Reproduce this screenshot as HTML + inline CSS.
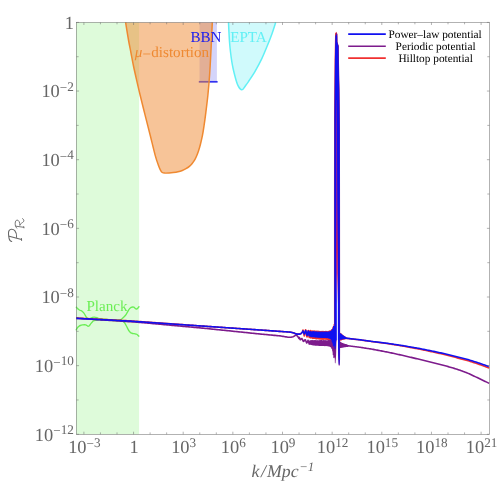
<!DOCTYPE html>
<html><head><meta charset="utf-8"><title>plot</title>
<style>html,body{margin:0;padding:0;background:#fff;width:497px;height:482px;overflow:hidden}body{font-family:"Liberation Serif",serif}</style>
</head><body>
<div style="will-change:transform;width:497px;height:482px">
<svg width="497" height="482" viewBox="0 0 497 482" style="display:block;text-rendering:geometricPrecision">
<rect width="497" height="482" fill="#ffffff"/>
<rect x="76.0" y="22.4" width="63.099999999999994" height="411.90000000000003" fill="#6bee55" fill-opacity="0.22"/>
<rect x="199.5" y="22.4" width="17.400000000000006" height="59.4" fill="#2828e6" fill-opacity="0.2"/>
<line x1="198.8" y1="81.8" x2="217.6" y2="81.8" stroke="#3030f0" stroke-width="1.7"/>
<path d="M125.60,22.40 C126.08,25.33 127.60,34.90 128.50,40.00 C129.40,45.10 130.17,48.67 131.00,53.00 C131.83,57.33 132.57,61.50 133.50,66.00 C134.43,70.50 135.50,75.17 136.60,80.00 C137.70,84.83 138.68,89.15 140.10,95.00 C141.52,100.85 143.42,108.40 145.10,115.10 C146.78,121.80 148.52,128.48 150.20,135.20 C151.88,141.92 153.82,150.35 155.20,155.40 C156.58,160.45 157.60,163.00 158.50,165.50 C159.40,168.00 159.97,169.23 160.60,170.40 C161.23,171.57 161.63,172.05 162.30,172.50 C162.97,172.95 163.48,173.02 164.60,173.10 C165.72,173.18 167.55,173.08 169.00,173.00 C170.45,172.92 171.80,172.80 173.30,172.60 C174.80,172.40 176.50,172.15 178.00,171.80 C179.50,171.45 180.97,171.02 182.30,170.50 C183.63,169.98 184.82,169.38 186.00,168.70 C187.18,168.02 188.40,167.23 189.40,166.40 C190.40,165.57 191.17,164.70 192.00,163.70 C192.83,162.70 193.65,161.65 194.40,160.40 C195.15,159.15 195.83,157.72 196.50,156.20 C197.17,154.68 197.73,153.33 198.40,151.30 C199.07,149.27 199.82,146.68 200.50,144.00 C201.18,141.32 201.92,138.20 202.50,135.20 C203.08,132.20 203.50,129.35 204.00,126.00 C204.50,122.65 204.85,120.27 205.50,115.10 C206.15,109.93 207.22,101.68 207.90,95.00 C208.58,88.32 209.08,82.50 209.60,75.00 C210.12,67.50 210.55,58.77 211.00,50.00 C211.45,41.23 212.08,27.00 212.30,22.40 Z" fill="#ef8931" fill-opacity="0.5" stroke="none"/>
<path d="M125.60,22.40 C126.08,25.33 127.60,34.90 128.50,40.00 C129.40,45.10 130.17,48.67 131.00,53.00 C131.83,57.33 132.57,61.50 133.50,66.00 C134.43,70.50 135.50,75.17 136.60,80.00 C137.70,84.83 138.68,89.15 140.10,95.00 C141.52,100.85 143.42,108.40 145.10,115.10 C146.78,121.80 148.52,128.48 150.20,135.20 C151.88,141.92 153.82,150.35 155.20,155.40 C156.58,160.45 157.60,163.00 158.50,165.50 C159.40,168.00 159.97,169.23 160.60,170.40 C161.23,171.57 161.63,172.05 162.30,172.50 C162.97,172.95 163.48,173.02 164.60,173.10 C165.72,173.18 167.55,173.08 169.00,173.00 C170.45,172.92 171.80,172.80 173.30,172.60 C174.80,172.40 176.50,172.15 178.00,171.80 C179.50,171.45 180.97,171.02 182.30,170.50 C183.63,169.98 184.82,169.38 186.00,168.70 C187.18,168.02 188.40,167.23 189.40,166.40 C190.40,165.57 191.17,164.70 192.00,163.70 C192.83,162.70 193.65,161.65 194.40,160.40 C195.15,159.15 195.83,157.72 196.50,156.20 C197.17,154.68 197.73,153.33 198.40,151.30 C199.07,149.27 199.82,146.68 200.50,144.00 C201.18,141.32 201.92,138.20 202.50,135.20 C203.08,132.20 203.50,129.35 204.00,126.00 C204.50,122.65 204.85,120.27 205.50,115.10 C206.15,109.93 207.22,101.68 207.90,95.00 C208.58,88.32 209.08,82.50 209.60,75.00 C210.12,67.50 210.55,58.77 211.00,50.00 C211.45,41.23 212.08,27.00 212.30,22.40" fill="none" stroke="#ef8931" stroke-width="1.5" stroke-linejoin="round"/>
<path d="M228.50,22.40 C228.58,24.17 228.82,29.57 229.00,33.00 C229.18,36.43 229.35,39.83 229.60,43.00 C229.85,46.17 230.13,48.88 230.50,52.00 C230.87,55.12 231.37,58.95 231.80,61.70 C232.23,64.45 232.63,66.32 233.10,68.50 C233.57,70.68 234.12,72.88 234.60,74.80 C235.08,76.72 235.53,78.43 236.00,80.00 C236.47,81.57 236.93,83.03 237.40,84.20 C237.87,85.37 238.33,86.22 238.80,87.00 C239.27,87.78 239.72,88.43 240.20,88.90 C240.68,89.37 241.23,89.75 241.70,89.80 C242.17,89.85 242.62,89.52 243.00,89.20 C243.38,88.88 243.50,88.60 244.00,87.90 C244.50,87.20 245.23,86.08 246.00,85.00 C246.77,83.92 247.07,83.72 248.60,81.40 C250.13,79.08 253.02,74.85 255.20,71.10 C257.38,67.35 259.68,63.12 261.70,58.90 C263.72,54.68 265.58,50.00 267.30,45.80 C269.02,41.60 270.60,37.60 272.00,33.70 C273.40,29.80 275.08,24.28 275.70,22.40 Z" fill="#62f0f5" fill-opacity="0.3" stroke="none"/>
<path d="M228.50,22.40 C228.58,24.17 228.82,29.57 229.00,33.00 C229.18,36.43 229.35,39.83 229.60,43.00 C229.85,46.17 230.13,48.88 230.50,52.00 C230.87,55.12 231.37,58.95 231.80,61.70 C232.23,64.45 232.63,66.32 233.10,68.50 C233.57,70.68 234.12,72.88 234.60,74.80 C235.08,76.72 235.53,78.43 236.00,80.00 C236.47,81.57 236.93,83.03 237.40,84.20 C237.87,85.37 238.33,86.22 238.80,87.00 C239.27,87.78 239.72,88.43 240.20,88.90 C240.68,89.37 241.23,89.75 241.70,89.80 C242.17,89.85 242.62,89.52 243.00,89.20 C243.38,88.88 243.50,88.60 244.00,87.90 C244.50,87.20 245.23,86.08 246.00,85.00 C246.77,83.92 247.07,83.72 248.60,81.40 C250.13,79.08 253.02,74.85 255.20,71.10 C257.38,67.35 259.68,63.12 261.70,58.90 C263.72,54.68 265.58,50.00 267.30,45.80 C269.02,41.60 270.60,37.60 272.00,33.70 C273.40,29.80 275.08,24.28 275.70,22.40" fill="none" stroke="#62f0f5" stroke-width="1.5"/>
<path d="M76.00,306.80 C76.25,307.10 77.00,308.10 77.50,308.60 C78.00,309.10 78.48,309.48 79.00,309.80 C79.52,310.12 80.08,310.27 80.60,310.50 C81.12,310.73 81.65,310.88 82.10,311.20 C82.55,311.52 82.90,311.93 83.30,312.40 C83.70,312.87 84.15,313.47 84.50,314.00 C84.85,314.53 85.10,315.08 85.40,315.60 C85.70,316.12 85.95,316.65 86.30,317.10 C86.65,317.55 86.97,318.05 87.50,318.30 C88.03,318.55 88.75,318.72 89.50,318.60 C90.25,318.48 91.23,317.85 92.00,317.60 C92.77,317.35 93.27,317.10 94.10,317.10 C94.93,317.10 96.02,317.33 97.00,317.60 C97.98,317.87 97.83,318.37 100.00,318.70 C102.17,319.03 106.67,319.40 110.00,319.60 C113.33,319.80 117.82,320.22 120.00,319.90 C122.18,319.58 122.18,318.47 123.10,317.70 C124.02,316.93 124.85,316.10 125.50,315.30 C126.15,314.50 126.53,313.68 127.00,312.90 C127.47,312.12 127.87,311.32 128.30,310.60 C128.73,309.88 129.12,309.13 129.60,308.60 C130.08,308.07 130.70,307.67 131.20,307.40 C131.70,307.13 132.17,307.03 132.60,307.00 C133.03,306.97 133.40,307.00 133.80,307.20 C134.20,307.40 134.63,307.92 135.00,308.20 C135.37,308.48 135.67,308.80 136.00,308.90 C136.33,309.00 136.67,308.97 137.00,308.80 C137.33,308.63 137.60,308.30 138.00,307.90 C138.40,307.50 139.17,306.65 139.40,306.40" fill="none" stroke="#6bee55" stroke-width="1.35"/>
<path d="M76.00,330.40 C76.15,330.10 76.60,329.12 76.90,328.60 C77.20,328.08 77.45,327.70 77.80,327.30 C78.15,326.90 78.58,326.50 79.00,326.20 C79.42,325.90 79.72,325.72 80.30,325.50 C80.88,325.28 81.80,325.03 82.50,324.90 C83.20,324.77 83.95,324.70 84.50,324.70 C85.05,324.70 85.40,324.77 85.80,324.90 C86.20,325.03 86.52,325.27 86.90,325.50 C87.28,325.73 87.75,326.22 88.10,326.30 C88.45,326.38 88.70,326.23 89.00,326.00 C89.30,325.77 89.57,325.33 89.90,324.90 C90.23,324.47 90.60,323.90 91.00,323.40 C91.40,322.90 91.78,322.35 92.30,321.90 C92.82,321.45 92.82,321.03 94.10,320.70 C95.38,320.37 97.35,319.95 100.00,319.90 C102.65,319.85 106.67,320.23 110.00,320.40 C113.33,320.57 117.82,320.72 120.00,320.90 C122.18,321.08 122.37,321.22 123.10,321.50 C123.83,321.78 124.00,322.13 124.40,322.60 C124.80,323.07 125.10,323.62 125.50,324.30 C125.90,324.98 126.38,325.90 126.80,326.70 C127.22,327.50 127.60,328.35 128.00,329.10 C128.40,329.85 128.80,330.63 129.20,331.20 C129.60,331.77 130.00,332.17 130.40,332.50 C130.80,332.83 131.20,333.03 131.60,333.20 C132.00,333.37 132.40,333.43 132.80,333.50 C133.20,333.57 133.60,333.55 134.00,333.60 C134.40,333.65 134.80,333.70 135.20,333.80 C135.60,333.90 136.00,334.02 136.40,334.20 C136.80,334.38 137.12,334.50 137.60,334.90 C138.08,335.30 139.02,336.32 139.30,336.60" fill="none" stroke="#6bee55" stroke-width="1.35"/>
<defs><linearGradient id="cg" x1="0" y1="110" x2="0" y2="350" gradientUnits="userSpaceOnUse"><stop offset="0" stop-color="#7a1aa4"/><stop offset="0.38" stop-color="#8c1a98"/><stop offset="0.5" stop-color="#b81c70"/><stop offset="0.58" stop-color="#d82048"/><stop offset="0.68" stop-color="#ee4060"/><stop offset="0.76" stop-color="#f8b8c8"/><stop offset="0.81" stop-color="#ffffff"/><stop offset="1" stop-color="#ffffff"/></linearGradient></defs>
<g fill="none" stroke-linejoin="round" stroke-width="1.6">
<polyline points="76.00,318.05 77.00,318.10 78.00,318.15 79.00,318.21 80.00,318.26 81.00,318.31 82.00,318.36 83.00,318.41 84.00,318.46 85.00,318.52 86.00,318.57 87.00,318.62 88.00,318.67 89.00,318.72 90.00,318.78 91.00,318.83 92.00,318.88 93.00,318.93 94.00,318.98 95.00,319.04 96.00,319.09 97.00,319.14 98.00,319.19 99.00,319.24 100.00,319.29 101.00,319.35 102.00,319.40 103.00,319.45 104.00,319.50 105.00,319.55 106.00,319.61 107.00,319.66 108.00,319.71 109.00,319.76 110.00,319.81 111.00,319.86 112.00,319.92 113.00,319.97 114.00,320.02 115.00,320.07 116.00,320.12 117.00,320.18 118.00,320.23 119.00,320.28 120.00,320.33 121.00,320.38 122.00,320.44 123.00,320.49 124.00,320.54 125.00,320.59 126.00,320.64 127.00,320.69 128.00,320.75 129.00,320.80 130.00,320.85 131.00,320.92 132.00,320.99 133.00,321.07 134.00,321.14 135.00,321.21 136.00,321.28 137.00,321.36 138.00,321.43 139.00,321.50 140.00,321.57 141.00,321.64 142.00,321.72 143.00,321.79 144.00,321.86 145.00,321.93 146.00,322.00 147.00,322.08 148.00,322.15 149.00,322.22 150.00,322.29 151.00,322.37 152.00,322.44 153.00,322.51 154.00,322.58 155.00,322.65 156.00,322.73 157.00,322.80 158.00,322.87 159.00,322.94 160.00,323.01 161.00,323.09 162.00,323.16 163.00,323.23 164.00,323.30 165.00,323.38 166.00,323.45 167.00,323.52 168.00,323.59 169.00,323.66 170.00,323.74 171.00,323.81 172.00,323.88 173.00,323.95 174.00,324.02 175.00,324.10 176.00,324.17 177.00,324.24 178.00,324.31 179.00,324.38 180.00,324.46 181.00,324.53 182.00,324.60 183.00,324.67 184.00,324.75 185.00,324.82 186.00,324.89 187.00,324.96 188.00,325.03 189.00,325.11 190.00,325.18 191.00,325.25 192.00,325.32 193.00,325.39 194.00,325.47 195.00,325.54 196.00,325.61 197.00,325.68 198.00,325.76 199.00,325.83 200.00,325.90 201.00,325.97 202.00,326.04 203.00,326.10 204.00,326.17 205.00,326.24 206.00,326.31 207.00,326.38 208.00,326.45 209.00,326.51 210.00,326.58 211.00,326.65 212.00,326.72 213.00,326.79 214.00,326.86 215.00,326.92 216.00,326.99 217.00,327.06 218.00,327.13 219.00,327.20 220.00,327.27 221.00,327.33 222.00,327.40 223.00,327.47 224.00,327.54 225.00,327.61 226.00,327.68 227.00,327.75 228.00,327.81 229.00,327.88 230.00,327.95 231.00,328.02 232.00,328.09 233.00,328.15 234.00,328.22 235.00,328.29 236.00,328.36 237.00,328.43 238.00,328.50 239.00,328.56 240.00,328.63 241.00,328.70 242.00,328.77 243.00,328.84 244.00,328.91 245.00,328.98 246.00,329.04 247.00,329.11 248.00,329.18 249.00,329.25 250.00,329.32 251.00,329.38 252.00,329.45 253.00,329.52 254.00,329.59 255.00,329.66 256.00,329.73 257.00,329.80 258.00,329.86 259.00,329.93 260.00,330.00 261.00,330.07 262.00,330.14 263.00,330.21 264.00,330.28 265.00,330.35 266.00,330.42 267.00,330.49 268.00,330.56 269.00,330.63 270.00,330.70 271.00,330.77 272.00,330.84 273.00,330.91 274.00,330.98 275.00,331.05 276.00,331.12 277.00,331.19 278.00,331.26 279.00,331.33 280.00,331.40 281.00,331.47 282.00,331.54 283.00,331.61 284.00,331.68 285.00,331.75 286.00,331.82 287.00,331.90 288.00,331.97 289.00,332.04 290.00,332.11 291.00,332.18 292.00,332.41 293.00,332.70 294.00,333.00 295.00,333.44 296.00,333.88 297.00,334.10 298.00,334.10 299.00,334.10 300.00,334.10 301.00,333.61 302.00,332.54 302.20,332.30 302.24,332.26 302.28,332.20 302.32,332.12 302.36,332.03 302.40,331.93 302.44,331.83 302.48,331.72 302.52,331.60 302.56,331.47 302.60,331.33 302.64,331.18 302.68,331.02 302.72,330.85 302.76,330.66 302.80,330.47 302.84,330.28 302.88,330.11 302.92,330.03 302.96,330.04 303.00,330.09 303.04,330.17 303.08,330.28 303.12,330.42 303.16,330.58 303.20,330.75 303.24,330.91 303.28,331.08 303.32,331.25 303.36,331.42 303.40,331.59 303.44,331.77 303.48,331.96 303.52,332.17 303.56,332.39 303.60,332.63 303.64,332.87 303.68,333.11 303.72,333.34 303.76,333.57 303.80,333.79 303.84,334.01 303.88,334.22 303.92,334.43 303.96,334.65 304.00,334.87 304.04,335.11 304.08,335.35 304.12,335.56 304.16,335.72 304.20,335.85 304.24,335.93 304.28,335.96 304.32,335.93 304.36,335.85 304.40,335.72 304.44,335.55 304.48,335.36 304.52,335.16 304.56,334.96 304.60,334.77 304.64,334.59 304.68,334.42 304.72,334.26 304.76,334.09 304.80,333.91 304.84,333.71 304.88,333.50 304.92,333.26 304.96,333.00 305.00,332.74 305.04,332.48 305.08,332.22 305.12,331.98 305.16,331.75 305.20,331.53 305.24,331.32 305.28,331.11 305.32,330.90 305.36,330.69 305.40,330.49 305.44,330.28 305.48,330.10 305.52,329.94 305.56,329.82 305.60,329.76 305.64,329.76 305.68,329.81 305.72,329.93 305.76,330.09 305.80,330.29 305.84,330.50 305.88,330.70 305.92,330.90 305.96,331.09 306.00,331.25 306.04,331.41 306.08,331.57 306.12,331.75 306.16,331.94 306.20,332.17 306.24,332.42 306.28,332.71 306.32,333.02 306.36,333.33 306.40,333.65 306.44,333.97 306.48,334.26 306.52,334.54 306.56,334.81 306.60,335.07 306.64,335.31 306.68,335.56 306.72,335.80 306.76,336.04 306.80,336.27 306.84,336.48 306.88,336.65 306.92,336.78 306.96,336.86 307.00,336.88 307.04,336.85 307.08,336.77 307.12,336.65 307.16,336.52 307.20,336.37 307.24,336.24 307.28,336.11 307.32,336.00 307.36,335.89 307.40,335.77 307.44,335.64 307.48,335.48 307.52,335.28 307.56,335.04 307.60,334.75 307.64,334.43 307.68,334.08 307.72,333.72 307.76,333.37 307.80,333.03 307.84,332.71 307.88,332.42 307.92,332.15 307.96,331.90 308.00,331.66 308.04,331.43 308.08,331.20 308.12,330.99 308.16,330.80 308.20,330.65 308.24,330.54 308.28,330.49 308.32,330.50 308.36,330.58 308.40,330.72 308.44,330.90 308.48,331.13 308.52,331.37 308.56,331.63 308.60,331.89 308.64,332.16 308.68,332.45 308.72,332.76 308.76,333.10 308.80,333.48 308.84,333.91 308.88,334.38 308.92,334.87 308.96,335.36 309.00,335.82 309.04,336.25 309.08,336.61 309.12,336.90 309.16,337.12 309.20,337.27 309.24,337.36 309.28,337.41 309.32,337.43 309.36,337.42 309.40,337.38 309.44,337.31 309.48,337.19 309.52,337.01 309.56,336.76 309.60,336.43 309.64,336.04 309.68,335.60 309.72,335.12 309.76,334.62 309.80,334.12 309.84,333.64 309.88,333.17 309.92,332.73 309.96,332.31 310.00,331.90 310.04,331.52 310.08,331.17 310.12,330.88 310.16,330.68 310.20,330.58 310.24,330.62 310.28,330.81 310.32,331.14 310.36,331.60 310.40,332.17 310.44,332.80 310.48,333.46 310.52,334.11 310.56,334.73 310.60,335.32 310.64,335.85 310.68,336.35 310.72,336.80 310.76,337.20 310.80,337.54 310.84,337.79 310.88,337.91 310.92,337.89 310.96,337.70 311.00,337.34 311.04,336.83 311.08,336.19 311.12,335.48 311.16,334.74 311.20,333.99 311.24,333.28 311.28,332.63 311.32,332.06 311.36,331.58 311.40,331.22 311.44,331.02 311.48,331.01 311.52,331.21 311.56,331.63 311.60,332.26 311.64,333.06 311.68,333.95 311.72,334.87 311.76,335.74 311.80,336.48 311.84,337.06 311.88,337.45 311.92,337.66 311.96,337.69 312.00,337.55 312.04,337.25 312.08,336.79 312.12,336.15 312.16,335.36 312.20,334.45 312.24,333.49 312.28,332.57 312.32,331.80 312.36,331.27 312.40,331.06 312.44,331.20 312.48,331.68 312.52,332.43 312.56,333.39 312.60,334.46 312.64,335.55 312.68,336.58 312.72,337.44 312.76,338.05 312.80,338.33 312.84,338.20 312.88,337.66 312.92,336.73 312.96,335.53 313.00,334.23 313.04,333.04 313.08,332.13 313.12,331.63 313.16,331.56 313.20,331.92 313.24,332.62 313.28,333.56 313.32,334.65 313.36,335.77 313.40,336.81 313.44,337.65 313.48,338.14 313.52,338.18 313.56,337.69 313.60,336.71 313.64,335.36 313.68,333.89 313.72,332.54 313.76,331.57 313.80,331.14 313.84,331.31 313.88,332.03 313.92,333.17 313.96,334.52 314.00,335.90 314.04,337.10 314.08,337.95 314.12,338.30 314.16,338.09 314.20,337.30 314.24,336.06 314.28,334.59 314.32,333.17 314.36,332.08 314.40,331.54 314.44,331.64 314.48,332.34 314.52,333.48 314.56,334.83 314.60,336.17 314.64,337.27 314.68,337.96 314.72,338.08 314.76,337.58 314.80,336.48 314.84,334.95 314.88,333.29 314.92,331.88 314.96,331.09 315.00,331.17 315.04,332.11 315.08,333.70 315.12,335.53 315.16,337.15 315.20,338.18 315.24,338.42 315.28,337.86 315.32,336.66 315.36,335.10 315.40,333.52 315.44,332.27 315.48,331.67 315.52,331.90 315.56,332.95 315.60,334.58 315.64,336.36 315.68,337.78 315.72,338.42 315.76,338.09 315.80,336.89 315.84,335.19 315.88,333.47 315.92,332.21 315.96,331.76 316.00,332.26 316.04,333.61 316.08,335.46 316.12,337.28 316.16,338.51 316.20,338.68 316.24,337.66 316.28,335.73 316.32,333.53 316.36,331.81 316.40,331.18 316.44,331.81 316.48,333.44 316.52,335.47 316.56,337.22 316.60,338.17 316.64,338.08 316.68,337.03 316.72,335.36 316.76,333.58 316.80,332.24 316.84,331.81 316.88,332.48 316.92,334.11 316.96,336.14 317.00,337.85 317.04,338.60 317.08,338.09 317.12,336.52 317.16,334.45 317.20,332.65 317.24,331.73 317.28,332.01 317.32,333.39 317.36,335.41 317.40,337.37 317.44,338.57 317.48,338.51 317.52,337.14 317.56,334.91 317.60,332.69 317.64,331.37 317.68,331.52 317.72,333.05 317.76,335.31 317.80,337.36 317.84,338.41 317.88,338.14 317.92,336.74 317.96,334.81 318.00,333.07 318.04,332.15 318.08,332.40 318.12,333.77 318.16,335.79 318.20,337.68 318.24,338.60 318.28,338.07 318.32,336.24 318.36,333.87 318.40,332.01 318.44,331.51 318.48,332.59 318.52,334.75 318.56,337.04 318.60,338.47 318.64,338.44 318.68,336.98 318.72,334.70 318.76,332.59 318.80,331.59 318.84,332.21 318.88,334.24 318.92,336.76 318.96,338.57 319.00,338.77 319.04,337.28 319.08,334.86 319.12,332.73 319.16,331.88 319.20,332.64 319.24,334.54 319.28,336.67 319.32,338.03 319.36,338.03 319.40,336.64 319.44,334.45 319.48,332.51 319.52,331.83 319.56,332.91 319.60,335.32 319.64,337.82 319.68,339.03 319.72,338.22 319.76,335.81 319.80,333.12 319.84,331.63 319.88,332.12 319.92,334.25 319.96,336.84 320.00,338.50 320.04,338.37 320.08,336.53 320.12,333.97 320.16,332.07 320.20,331.91 320.24,333.63 320.28,336.28 320.32,338.37 320.36,338.69 320.40,337.11 320.44,334.58 320.48,332.54 320.52,332.09 320.56,333.37 320.60,335.63 320.64,337.64 320.68,338.36 320.72,337.38 320.76,335.16 320.80,332.84 320.84,331.75 320.88,332.62 320.92,335.10 320.96,337.83 321.00,339.19 321.04,338.33 321.08,335.75 321.12,332.96 321.16,331.57 321.20,332.29 321.24,334.60 321.28,337.15 321.32,338.56 321.36,338.13 321.40,336.15 321.44,333.69 321.48,332.09 321.52,332.27 321.56,334.17 321.60,336.76 321.64,338.56 321.68,338.51 321.72,336.63 321.76,334.04 321.80,332.22 321.84,332.17 321.88,333.86 321.92,336.29 321.96,338.15 322.00,338.41 322.04,336.93 322.08,334.44 322.12,332.31 322.16,331.78 322.20,333.28 322.24,336.08 322.28,338.56 322.32,339.22 322.36,337.62 322.40,334.72 322.44,332.24 322.48,331.61 322.52,333.07 322.56,335.67 322.60,337.89 322.64,338.56 322.68,337.42 322.72,335.14 322.76,332.98 322.80,332.11 322.84,333.07 322.88,335.37 322.92,337.75 322.96,338.81 323.00,337.86 323.04,335.41 323.08,332.91 323.12,331.81 323.16,332.74 323.20,335.12 323.24,337.57 323.28,338.71 323.32,337.93 323.36,335.66 323.40,333.13 323.44,331.78 323.48,332.46 323.52,334.87 323.56,337.68 323.60,339.21 323.64,338.49 323.68,335.93 323.72,333.07 323.76,331.62 323.80,332.36 323.84,334.73 323.88,337.27 323.92,338.55 323.96,337.97 324.00,335.95 324.04,333.65 324.08,332.33 324.12,332.72 324.16,334.67 324.20,337.15 324.24,338.71 324.28,338.35 324.32,336.17 324.36,333.42 324.40,331.76 324.44,332.21 324.48,334.49 324.52,337.24 324.56,338.84 324.60,338.40 324.64,336.23 324.68,333.57 324.72,331.94 324.76,332.29 324.80,334.46 324.84,337.25 324.88,339.02 324.92,338.66 324.96,336.33 325.00,333.44 325.04,331.73 325.08,332.21 325.12,334.49 325.16,337.13 325.20,338.60 325.24,338.14 325.28,336.15 325.32,333.81 325.36,332.42 325.40,332.74 325.44,334.63 325.48,337.09 325.52,338.69 325.56,338.39 325.60,336.22 325.64,333.40 325.68,331.66 325.72,332.13 325.76,334.56 325.80,337.48 325.84,339.10 325.88,338.50 325.92,336.12 325.96,333.40 326.00,331.93 326.04,332.50 326.08,334.77 326.12,337.44 326.16,338.93 326.20,338.35 326.24,335.97 326.28,333.22 326.32,331.77 326.36,332.50 326.40,334.95 326.44,337.57 326.48,338.81 326.52,338.00 326.56,335.73 326.60,333.40 326.64,332.31 326.68,333.05 326.72,335.21 326.76,337.58 326.80,338.78 326.84,337.99 326.88,335.53 326.92,332.81 326.96,331.54 327.00,332.62 327.04,335.46 327.08,338.30 327.12,339.37 327.16,338.05 327.20,335.24 327.24,332.68 327.28,331.88 327.32,333.19 327.36,335.77 327.40,338.08 327.44,338.81 327.48,337.51 327.52,334.93 327.56,332.60 327.60,331.95 327.64,333.42 327.68,336.15 327.72,338.43 327.76,338.87 327.80,337.24 327.84,334.59 327.88,332.56 327.92,332.30 327.96,333.93 328.00,336.45 328.04,338.43 328.08,338.66 328.12,336.91 328.16,334.11 328.20,331.93 328.24,331.83 328.28,334.02 328.32,337.23 328.36,339.43 328.40,339.19 328.44,336.66 328.48,333.49 328.52,331.66 328.56,332.21 328.60,334.65 328.64,337.44 328.68,338.93 328.72,338.31 328.76,335.99 328.80,333.33 328.84,331.91 328.88,332.66 328.92,335.21 328.96,338.06 329.00,339.39 329.04,338.31 329.08,335.45 329.12,332.61 329.16,331.57 329.20,332.95 329.24,335.86 329.28,338.51 329.32,339.31 329.36,337.78 329.40,334.78 329.44,332.09 329.48,331.40 329.52,333.29 329.56,336.71 329.60,339.54 329.64,339.91 329.68,337.50 329.72,333.84 329.76,331.28 329.80,331.43 329.84,334.05 329.88,337.38 329.92,339.36 329.96,338.91 330.00,336.44 330.04,333.50 330.08,331.82 330.12,332.40 330.16,334.97 330.20,338.04 330.24,339.69 330.28,338.76 330.32,335.68 330.36,332.35 330.40,330.95 330.44,332.43 330.48,335.88 330.52,339.08 330.56,340.02 330.60,338.17 330.64,334.70 330.68,331.76 330.72,331.16 330.76,333.31 330.80,336.95 330.84,339.84 330.88,340.10 330.92,337.43 330.96,333.47 331.00,330.78 331.04,331.10 331.08,334.25 331.12,338.17 331.16,340.33 331.20,339.46 331.24,336.27 331.28,332.84 331.32,331.25 331.36,332.42 331.40,335.63 331.44,339.02 331.48,340.48 331.52,338.93 331.56,335.10 331.60,331.32 331.64,330.15 331.68,332.63 331.72,337.33 331.76,341.21 331.80,341.65 331.84,338.35 331.88,333.47 331.92,330.17 331.96,330.50 332.00,334.23 332.04,338.99 332.08,341.84 332.12,340.95 332.16,336.78 332.20,331.89 332.24,329.45 332.28,331.18 332.32,336.09 332.36,341.00 332.40,342.68 332.44,340.06 332.48,334.96 332.52,330.75 332.56,330.02 332.60,333.16 332.64,338.16 332.68,341.94 332.72,342.16 332.76,338.53 332.80,333.09 332.84,329.27 332.88,329.85 332.92,334.99 332.96,341.67 333.00,345.42 333.04,343.42 333.08,336.73 333.12,329.78 333.16,327.28 333.20,330.89 333.24,338.18 333.28,344.37 333.32,345.58 333.36,341.17 333.40,334.01 333.44,328.64 333.48,328.55 333.52,334.00 333.56,341.67 333.60,346.58 333.64,345.32 333.68,338.52 333.72,330.62 333.76,326.93 333.80,329.88 333.84,337.44 333.88,344.60 333.92,346.77 333.96,342.68 334.00,334.97 334.04,328.49 334.08,327.43 334.12,332.81 334.16,341.60 334.20,348.17 334.24,347.78 334.28,340.06 334.32,329.83 334.36,324.09" stroke="#f03030"/>
<polyline points="339.80,334.72 339.84,334.01 339.88,335.02 339.92,337.21 339.96,339.21 340.00,339.65 340.04,338.12 340.08,335.55 340.12,333.67 340.16,333.79 340.20,335.85 340.24,338.44 340.28,339.84 340.32,339.21 340.36,337.09 340.40,334.92 340.44,334.04 340.48,334.95 340.52,337.01 340.56,338.92 340.60,339.49 340.64,338.35 340.68,336.23 340.72,334.49 340.76,334.28 340.80,335.77 340.84,337.96 340.88,339.41 340.92,339.23 340.96,337.59 341.00,335.62 341.04,334.55 341.08,335.02 341.12,336.71 341.16,338.57 341.20,339.44 341.24,338.76 341.28,336.89 341.32,335.01 341.36,334.37 341.40,335.45 341.44,337.57 341.48,339.33 341.52,339.59 341.56,338.24 341.60,336.26 341.64,334.95 341.68,335.06 341.72,336.40 341.76,338.06 341.80,339.03 341.84,338.78 341.88,337.53 341.92,336.03 341.96,335.23 342.00,335.64 342.04,337.05 342.08,338.59 342.12,339.26 342.16,338.62 342.20,337.09 342.24,335.69 342.28,335.30 342.32,336.14 342.36,337.62 342.40,338.84 342.44,339.05 342.48,338.17 342.52,336.75 342.56,335.66 342.60,335.60 342.64,336.64 342.68,338.14 342.72,339.16 342.76,339.04 342.80,337.87 342.84,336.45 342.88,335.69 342.92,336.03 342.96,337.18 343.00,338.36 343.04,338.87 343.08,338.50 343.12,337.53 343.16,336.57 343.20,336.19 343.24,336.60 343.28,337.58 343.32,338.55 343.36,338.90 343.40,338.39 343.44,337.33 343.48,336.38 343.52,336.18 343.56,336.84 343.60,337.94 343.64,338.77 343.68,338.85 343.72,338.18 343.76,337.22 343.80,336.54 343.84,336.56 343.88,337.24 343.92,338.17 343.96,338.80 344.00,338.74 344.04,338.04 344.08,337.14 344.12,336.63 344.16,336.81 344.20,337.53 344.24,338.33 344.28,338.72 344.32,338.51 344.36,337.90 344.40,337.28 344.44,337.02 344.48,337.23 344.52,337.79 344.56,338.38 344.60,338.64 344.64,338.43 344.68,337.86 344.72,337.28 344.76,337.06 344.80,337.36 344.84,337.99 344.88,338.56 344.92,338.72 344.96,338.41 345.00,337.85 345.04,337.41 345.08,337.33 345.12,337.64 345.16,338.13 345.20,338.52 345.24,338.59 345.28,338.33 345.32,337.90 345.36,337.57 345.40,337.55 345.44,337.83 345.48,338.25 345.52,338.54 345.56,338.55 345.60,338.30 345.64,337.98 345.68,337.79 345.72,337.81 345.76,338.03 345.80,338.31 345.84,338.49 345.88,338.49 345.92,338.31 345.96,338.07 346.00,337.91 346.04,337.94 346.08,338.14 346.12,338.39 346.16,338.54 346.20,338.51 346.24,338.34 346.28,338.16 346.32,338.07 346.36,338.12 346.40,338.26 346.44,338.40 346.48,338.47 346.52,338.45 346.56,338.36 346.60,338.27 346.64,338.23 346.68,338.26 346.72,338.33 346.76,338.41 346.80,338.45 346.84,338.43 346.88,338.38 346.92,338.34 346.96,338.33 347.00,338.35 347.04,338.38 347.08,338.41 347.12,338.41 347.16,338.41 347.20,338.41 348.20,338.52 349.20,338.64 350.20,338.76 351.20,338.87 352.20,338.99 353.20,339.11 354.20,339.22 355.20,339.34 356.20,339.46 357.20,339.57 358.20,339.69 359.20,339.81 360.20,339.93 361.20,340.07 362.20,340.21 363.20,340.34 364.20,340.48 365.20,340.62 366.20,340.76 367.20,340.90 368.20,341.04 369.20,341.18 370.20,341.32 371.20,341.45 372.20,341.59 373.20,341.72 374.20,341.85 375.20,341.99 376.20,342.12 377.20,342.25 378.20,342.38 379.20,342.52 380.20,342.65 381.20,342.78 382.20,342.91 383.20,343.04 384.20,343.18 385.20,343.31 386.20,343.44 387.20,343.57 388.20,343.71 389.20,343.87 390.20,344.04 391.20,344.20 392.20,344.36 393.20,344.52 394.20,344.68 395.20,344.85 396.20,345.01 397.20,345.17 398.20,345.33 399.20,345.49 400.20,345.65 401.20,345.82 402.20,345.98 403.20,346.14 404.20,346.32 405.20,346.51 406.20,346.69 407.20,346.87 408.20,347.06 409.20,347.24 410.20,347.42 411.20,347.61 412.20,347.79 413.20,347.97 414.20,348.16 415.20,348.34 416.20,348.52 417.20,348.71 418.20,348.89 419.20,349.07 420.20,349.26 421.20,349.48 422.20,349.69 423.20,349.90 424.20,350.11 425.20,350.33 426.20,350.54 427.20,350.75 428.20,350.97 429.20,351.18 430.20,351.39 431.20,351.60 432.20,351.82 433.20,352.03 434.20,352.24 435.20,352.46 436.20,352.69 437.20,352.91 438.20,353.13 439.20,353.36 440.20,353.58 441.20,353.81 442.20,354.03 443.20,354.26 444.20,354.49 445.20,354.71 446.20,354.94 447.20,355.21 448.20,355.47 449.20,355.74 450.20,356.00 451.20,356.27 452.20,356.54 453.20,356.80 454.20,357.07 455.20,357.33 456.20,357.60 457.20,357.86 458.20,358.12 459.20,358.38 460.20,358.64 461.20,358.90 462.20,359.16 463.20,359.43 464.20,359.69 465.20,359.95 466.20,360.21 467.20,360.47 468.20,360.78 469.20,361.10 470.20,361.42 471.20,361.74 472.20,362.06 473.20,362.38 474.20,362.71 475.20,363.03 476.20,363.35 477.20,363.67 478.20,364.01 479.20,364.38 480.20,364.74 481.20,365.10 482.20,365.47 483.20,365.83 484.20,366.19 485.20,366.56 486.20,366.92 487.20,367.29 488.20,367.65 489.20,368.01" stroke="#f03030"/>
<polygon points="333.95,340.00 333.95,200.00 334.05,120.00 334.35,80.00 334.55,60.00 334.85,45.00 335.05,33.50 336.30,31.80 337.20,33.50 337.30,42.00 338.50,46.00 338.70,60.00 339.30,90.00 339.70,130.00 339.80,200.00 339.90,340.00 339.80,354.00 339.50,360.00 338.70,360.00 338.30,352.00 337.90,340.00 336.60,340.00 336.10,342.00 335.50,350.00 334.25,350.00 334.05,342.00" fill="#f03030" stroke="none"/>
<polyline points="76.00,318.35 77.00,318.41 78.00,318.47 79.00,318.53 80.00,318.59 81.00,318.65 82.00,318.71 83.00,318.77 84.00,318.83 85.00,318.89 86.00,318.95 87.00,319.01 88.00,319.07 89.00,319.13 90.00,319.19 91.00,319.25 92.00,319.31 93.00,319.38 94.00,319.44 95.00,319.50 96.00,319.56 97.00,319.62 98.00,319.68 99.00,319.74 100.00,319.80 101.00,319.86 102.00,319.92 103.00,319.98 104.00,320.04 105.00,320.10 106.00,320.16 107.00,320.22 108.00,320.28 109.00,320.34 110.00,320.40 111.00,320.47 112.00,320.53 113.00,320.60 114.00,320.67 115.00,320.73 116.00,320.80 117.00,320.87 118.00,320.93 119.00,321.00 120.00,321.07 121.00,321.13 122.00,321.20 123.00,321.27 124.00,321.33 125.00,321.40 126.00,321.47 127.00,321.53 128.00,321.60 129.00,321.67 130.00,321.73 131.00,321.80 132.00,321.87 133.00,321.93 134.00,322.00 135.00,322.07 136.00,322.13 137.00,322.20 138.00,322.27 139.00,322.33 140.00,322.40 141.00,322.49 142.00,322.58 143.00,322.67 144.00,322.77 145.00,322.86 146.00,322.95 147.00,323.04 148.00,323.13 149.00,323.22 150.00,323.32 151.00,323.41 152.00,323.50 153.00,323.59 154.00,323.68 155.00,323.77 156.00,323.87 157.00,323.96 158.00,324.05 159.00,324.14 160.00,324.23 161.00,324.32 162.00,324.42 163.00,324.51 164.00,324.60 165.00,324.69 166.00,324.78 167.00,324.87 168.00,324.97 169.00,325.06 170.00,325.15 171.00,325.24 172.00,325.33 173.00,325.42 174.00,325.51 175.00,325.61 176.00,325.70 177.00,325.79 178.00,325.88 179.00,325.97 180.00,326.06 181.00,326.16 182.00,326.25 183.00,326.34 184.00,326.43 185.00,326.52 186.00,326.61 187.00,326.71 188.00,326.80 189.00,326.89 190.00,326.98 191.00,327.07 192.00,327.16 193.00,327.26 194.00,327.35 195.00,327.44 196.00,327.53 197.00,327.62 198.00,327.71 199.00,327.81 200.00,327.90 201.00,327.99 202.00,328.08 203.00,328.17 204.00,328.26 205.00,328.36 206.00,328.46 207.00,328.57 208.00,328.67 209.00,328.77 210.00,328.87 211.00,328.98 212.00,329.08 213.00,329.18 214.00,329.28 215.00,329.39 216.00,329.49 217.00,329.59 218.00,329.69 219.00,329.80 220.00,329.90 221.00,330.00 222.00,330.10 223.00,330.21 224.00,330.31 225.00,330.41 226.00,330.51 227.00,330.62 228.00,330.72 229.00,330.82 230.00,330.92 231.00,331.03 232.00,331.13 233.00,331.23 234.00,331.33 235.00,331.44 236.00,331.54 237.00,331.64 238.00,331.74 239.00,331.85 240.00,331.95 241.00,332.05 242.00,332.15 243.00,332.26 244.00,332.36 245.00,332.46 246.00,332.56 247.00,332.67 248.00,332.77 249.00,332.87 250.00,332.97 251.00,333.08 252.00,333.18 253.00,333.28 254.00,333.38 255.00,333.49 256.00,333.59 257.00,333.69 258.00,333.79 259.00,333.90 260.00,334.00 261.00,334.10 262.00,334.19 263.00,334.28 264.00,334.38 265.00,334.48 266.00,334.57 267.00,334.66 268.00,334.76 269.00,334.86 270.00,334.95 271.00,335.04 272.00,335.14 273.00,335.24 274.00,335.33 275.00,335.42 276.00,335.52 277.00,335.62 278.00,335.71 279.00,335.80 280.00,335.90 281.00,336.06 282.00,336.22 283.00,336.39 284.00,336.55 285.00,336.71 286.00,336.88 287.00,337.04 288.00,337.20 289.00,337.23 290.00,337.27 291.00,337.30 292.00,336.98 293.00,336.66 294.00,336.20 295.00,335.60 296.00,335.00 297.00,335.67 298.00,336.83 299.00,338.50 299.30,337.41 299.34,337.49 299.38,337.58 299.42,337.67 299.46,337.77 299.50,337.87 299.54,337.98 299.58,338.09 299.62,338.20 299.66,338.32 299.70,338.44 299.74,338.57 299.78,338.70 299.82,338.83 299.86,338.97 299.90,339.10 299.94,339.23 299.98,339.34 300.02,339.45 300.06,339.55 300.10,339.63 300.14,339.63 300.18,339.62 300.22,339.61 300.26,339.61 300.30,339.61 300.34,339.62 300.38,339.64 300.42,339.65 300.46,339.66 300.50,339.66 300.54,339.66 300.58,339.64 300.62,339.61 300.66,339.57 300.70,339.52 300.74,339.46 300.78,339.41 300.82,339.35 300.86,339.29 300.90,339.24 300.94,339.19 300.98,339.14 301.02,339.10 301.06,339.05 301.10,339.01 301.14,338.96 301.18,338.91 301.22,338.87 301.26,338.83 301.30,338.79 301.34,338.76 301.38,338.73 301.42,338.71 301.46,338.70 301.50,338.69 301.54,338.69 301.58,338.68 301.62,338.67 301.66,338.65 301.70,338.63 301.74,338.61 301.78,338.58 301.82,338.56 301.86,338.55 301.90,338.56 301.94,338.58 301.98,338.61 302.02,338.67 302.06,338.73 302.10,338.81 302.14,338.90 302.18,338.99 302.22,339.08 302.26,339.17 302.30,339.25 302.34,339.33 302.38,339.41 302.42,339.48 302.46,339.56 302.50,339.63 302.54,339.72 302.58,339.80 302.62,339.90 302.66,339.99 302.70,340.08 302.74,340.17 302.78,340.26 302.82,340.35 302.86,340.43 302.90,340.51 302.94,340.59 302.98,340.68 303.02,340.77 303.06,340.86 303.10,340.95 303.14,341.04 303.18,341.13 303.22,341.21 303.26,341.28 303.30,341.33 303.34,341.36 303.38,341.37 303.42,341.37 303.46,341.35 303.50,341.33 303.54,341.30 303.58,341.28 303.62,341.26 303.66,341.24 303.70,341.23 303.74,341.23 303.78,341.23 303.82,341.23 303.86,341.22 303.90,341.20 303.94,341.17 303.98,341.14 304.02,341.09 304.06,341.03 304.10,340.97 304.14,340.90 304.18,340.83 304.22,340.76 304.26,340.70 304.30,340.63 304.34,340.57 304.38,340.50 304.42,340.43 304.46,340.35 304.50,340.28 304.54,340.20 304.58,340.14 304.62,340.07 304.66,340.02 304.70,339.99 304.74,339.97 304.78,339.96 304.82,339.96 304.86,339.96 304.90,339.97 304.94,339.97 304.98,339.97 305.02,339.95 305.06,339.93 305.10,339.90 305.14,339.87 305.18,339.84 305.22,339.82 305.26,339.82 305.30,339.83 305.34,339.86 305.38,339.90 305.42,339.97 305.46,340.04 305.50,340.13 305.54,340.22 305.58,340.31 305.62,340.41 305.66,340.50 305.70,340.59 305.74,340.68 305.78,340.77 305.82,340.87 305.86,340.98 305.90,341.09 305.94,341.20 305.98,341.31 306.02,341.42 306.06,341.53 306.10,341.63 306.14,341.72 306.18,341.80 306.22,341.89 306.26,341.97 306.30,342.05 306.34,342.15 306.38,342.25 306.42,342.35 306.46,342.47 306.50,342.58 306.54,342.69 306.58,342.79 306.62,342.88 306.66,342.94 306.70,342.98 306.74,342.99 306.78,342.98 306.82,342.95 306.86,342.91 306.90,342.86 306.94,342.81 306.98,342.75 307.02,342.70 307.06,342.65 307.10,342.60 307.14,342.54 307.18,342.47 307.22,342.39 307.26,342.31 307.30,342.21 307.34,342.10 307.38,341.99 307.42,341.88 307.46,341.77 307.50,341.66 307.54,341.55 307.58,341.45 307.62,341.35 307.66,341.25 307.70,341.14 307.74,341.02 307.78,340.89 307.82,340.77 307.86,340.65 307.90,340.53 307.94,340.44 307.98,340.37 308.02,340.33 308.06,340.33 308.10,340.35 308.14,340.41 308.18,340.48 308.22,340.57 308.26,340.66 308.30,340.76 308.34,340.86 308.38,340.95 308.42,341.05 308.46,341.15 308.50,341.26 308.54,341.39 308.58,341.53 308.62,341.69 308.66,341.85 308.70,342.03 308.74,342.21 308.78,342.38 308.82,342.55 308.86,342.72 308.90,342.87 308.94,343.03 308.98,343.18 309.02,343.33 309.06,343.48 309.10,343.63 309.14,343.77 309.18,343.90 309.22,344.00 309.26,344.06 309.30,344.08 309.34,344.06 309.38,343.99 309.42,343.88 309.46,343.75 309.50,343.59 309.54,343.42 309.58,343.25 309.62,343.08 309.66,342.91 309.70,342.74 309.74,342.57 309.78,342.38 309.82,342.19 309.86,341.99 309.90,341.78 309.94,341.58 309.98,341.39 310.02,341.23 310.06,341.09 310.10,340.99 310.14,340.93 310.18,340.92 310.22,340.94 310.26,340.99 310.30,341.08 310.34,341.19 310.38,341.34 310.42,341.51 310.46,341.73 310.50,341.99 310.54,342.27 310.58,342.59 310.62,342.91 310.66,343.23 310.70,343.52 310.74,343.78 310.78,343.98 310.82,344.11 310.86,344.20 310.90,344.23 310.94,344.21 310.98,344.16 311.02,344.08 311.06,343.96 311.10,343.80 311.14,343.59 311.18,343.33 311.22,343.02 311.26,342.67 311.30,342.29 311.34,341.92 311.38,341.58 311.42,341.29 311.46,341.07 311.50,340.94 311.54,340.90 311.58,340.94 311.62,341.06 311.66,341.25 311.70,341.51 311.74,341.82 311.78,342.19 311.82,342.60 311.86,343.03 311.90,343.46 311.94,343.85 311.98,344.19 312.02,344.42 312.06,344.54 312.10,344.55 312.14,344.44 312.18,344.23 312.22,343.95 312.26,343.61 312.30,343.24 312.34,342.84 312.38,342.42 312.42,342.00 312.46,341.60 312.50,341.25 312.54,341.00 312.58,340.87 312.62,340.91 312.66,341.12 312.70,341.50 312.74,342.00 312.78,342.59 312.82,343.18 312.86,343.72 312.90,344.17 312.94,344.48 312.98,344.63 313.02,344.61 313.06,344.44 313.10,344.11 313.14,343.65 313.18,343.10 313.22,342.50 313.26,341.93 313.30,341.45 313.34,341.12 313.38,341.00 313.42,341.09 313.46,341.39 313.50,341.84 313.54,342.39 313.58,342.97 313.62,343.54 313.66,344.04 313.70,344.43 313.74,344.65 313.78,344.68 313.82,344.48 313.86,344.05 313.90,343.42 313.94,342.68 313.98,341.93 314.02,341.30 314.06,340.90 314.10,340.80 314.14,341.01 314.18,341.48 314.22,342.14 314.26,342.87 314.30,343.57 314.34,344.15 314.38,344.55 314.42,344.72 314.46,344.62 314.50,344.26 314.54,343.67 314.58,342.93 314.62,342.16 314.66,341.52 314.70,341.11 314.74,341.04 314.78,341.31 314.82,341.88 314.86,342.63 314.90,343.43 314.94,344.14 314.98,344.64 315.02,344.84 315.06,344.69 315.10,344.19 315.14,343.40 315.18,342.46 315.22,341.57 315.26,340.96 315.30,340.78 315.34,341.12 315.38,341.89 315.42,342.90 315.46,343.90 315.50,344.62 315.54,344.91 315.58,344.72 315.62,344.13 315.66,343.29 315.70,342.40 315.74,341.66 315.78,341.26 315.82,341.31 315.86,341.85 315.90,342.76 315.94,343.80 315.98,344.64 316.02,345.00 316.06,344.74 316.10,343.93 316.14,342.83 316.18,341.81 316.22,341.17 316.26,341.11 316.30,341.64 316.34,342.59 316.38,343.69 316.42,344.61 316.46,345.04 316.50,344.82 316.54,343.99 316.58,342.79 316.62,341.63 316.66,340.94 316.70,340.95 316.74,341.66 316.78,342.80 316.82,343.93 316.86,344.68 316.90,344.83 316.94,344.37 316.98,343.49 317.02,342.48 317.06,341.65 317.10,341.28 317.14,341.50 317.18,342.29 317.22,343.41 317.26,344.47 317.30,345.05 317.34,344.89 317.38,344.02 317.42,342.76 317.46,341.60 317.50,341.00 317.54,341.16 317.58,342.01 317.62,343.23 317.66,344.35 317.70,344.97 317.74,344.86 317.78,344.04 317.82,342.80 317.86,341.62 317.90,340.98 317.94,341.15 317.98,342.09 318.02,343.41 318.06,344.55 318.10,345.03 318.14,344.69 318.18,343.70 318.22,342.52 318.26,341.61 318.30,341.32 318.34,341.74 318.38,342.70 318.42,343.84 318.46,344.71 318.50,344.91 318.54,344.28 318.58,343.04 318.62,341.71 318.66,340.93 318.70,341.10 318.74,342.17 318.78,343.64 318.82,344.82 318.86,345.17 318.90,344.54 318.94,343.27 318.98,341.96 319.02,341.18 319.06,341.29 319.10,342.22 319.14,343.57 319.18,344.70 319.22,345.06 319.26,344.45 319.30,343.13 319.34,341.78 319.38,341.09 319.42,341.40 319.46,342.53 319.50,343.88 319.54,344.77 319.58,344.77 319.62,343.92 319.66,342.65 319.70,341.58 319.74,341.26 319.78,341.90 319.82,343.24 319.86,344.60 319.90,345.21 319.94,344.65 319.98,343.16 320.02,341.58 320.06,340.83 320.10,341.34 320.14,342.80 320.18,344.35 320.22,345.12 320.26,344.76 320.30,343.51 320.34,342.10 320.38,341.28 320.42,341.45 320.46,342.52 320.50,343.93 320.54,344.91 320.58,344.89 320.62,343.86 320.66,342.37 320.70,341.28 320.74,341.21 320.78,342.20 320.82,343.66 320.86,344.77 320.90,344.93 320.94,344.08 320.98,342.71 321.02,341.54 321.06,341.21 321.10,341.94 321.14,343.39 321.18,344.76 321.22,345.27 321.26,344.55 321.30,342.96 321.34,341.42 321.38,340.84 321.42,341.55 321.46,343.11 321.50,344.58 321.54,345.15 321.58,344.57 321.62,343.25 321.66,341.93 321.70,341.32 321.74,341.71 321.78,342.88 321.82,344.22 321.86,344.98 321.90,344.71 321.94,343.50 321.98,342.02 322.02,341.13 322.06,341.38 322.10,342.62 322.14,344.14 322.18,345.07 322.22,344.88 322.26,343.72 322.30,342.24 322.34,341.27 322.38,341.33 322.42,342.43 322.46,343.98 322.50,345.11 322.54,345.14 322.58,344.00 322.62,342.32 322.66,341.09 322.70,341.04 322.74,342.19 322.78,343.83 322.82,344.99 322.86,345.04 322.90,344.04 322.94,342.62 322.98,341.58 323.02,341.44 323.06,342.26 323.10,343.58 323.14,344.70 323.18,344.97 323.22,344.19 323.26,342.73 323.30,341.43 323.34,341.08 323.38,341.95 323.42,343.54 323.46,344.91 323.50,345.25 323.54,344.39 323.58,342.84 323.62,341.52 323.66,341.15 323.70,341.93 323.74,343.42 323.78,344.79 323.82,345.24 323.86,344.49 323.90,342.94 323.94,341.48 323.98,340.99 324.02,341.77 324.06,343.35 324.10,344.76 324.14,345.19 324.18,344.45 324.22,343.04 324.26,341.80 324.30,341.39 324.34,342.00 324.38,343.27 324.42,344.51 324.46,345.02 324.50,344.46 324.54,343.09 324.58,341.66 324.62,341.04 324.66,341.69 324.70,343.26 324.74,344.83 324.78,345.42 324.82,344.70 324.86,343.11 324.90,341.62 324.94,341.09 324.98,341.78 325.02,343.25 325.06,344.66 325.10,345.20 325.14,344.57 325.18,343.12 325.22,341.67 325.26,341.10 325.30,341.76 325.34,343.28 325.38,344.73 325.42,345.25 325.46,344.55 325.50,343.10 325.54,341.79 325.58,341.35 325.62,341.99 325.66,343.31 325.70,344.57 325.74,345.05 325.78,344.45 325.82,343.05 325.86,341.64 325.90,341.08 325.94,341.79 325.98,343.42 326.02,344.99 326.06,345.51 326.10,344.65 326.14,342.95 326.18,341.46 326.22,341.07 326.26,341.94 326.30,343.50 326.34,344.81 326.38,345.15 326.42,344.35 326.46,342.89 326.50,341.61 326.54,341.27 326.58,342.09 326.62,343.62 326.66,344.94 326.70,345.23 326.74,344.31 326.78,342.76 326.82,341.52 326.86,341.33 326.90,342.26 326.94,343.74 326.98,344.89 327.02,345.06 327.06,344.13 327.10,342.62 327.14,341.40 327.18,341.23 327.22,342.30 327.26,344.02 327.30,345.34 327.34,345.41 327.38,344.14 327.42,342.33 327.46,341.12 327.50,341.23 327.54,342.51 327.58,344.14 327.62,345.13 327.66,344.95 327.70,343.79 327.74,342.34 327.78,341.45 327.82,341.62 327.86,342.80 327.90,344.29 327.94,345.21 327.98,344.95 328.02,343.62 328.06,342.03 328.10,341.16 328.14,341.58 328.18,343.02 328.22,344.59 328.26,345.34 328.30,344.83 328.34,343.38 328.38,341.84 328.42,341.13 328.46,341.72 328.50,343.33 328.54,345.01 328.58,345.71 328.62,344.91 328.66,343.07 328.70,341.35 328.74,340.84 328.78,341.85 328.82,343.71 328.86,345.22 328.90,345.50 328.94,344.46 328.98,342.82 329.02,341.54 329.06,341.37 329.10,342.39 329.14,344.01 329.18,345.30 329.22,345.43 329.26,344.24 329.30,342.38 329.34,341.03 329.38,341.09 329.42,342.59 329.46,344.60 329.50,345.84 329.54,345.54 329.58,343.91 329.62,341.97 329.66,340.92 329.70,341.38 329.74,343.08 329.78,345.01 329.82,345.99 329.86,345.36 329.90,343.45 329.94,341.44 329.98,340.61 330.02,341.54 330.06,343.63 330.10,345.53 330.14,346.05 330.18,344.93 330.22,342.96 330.26,341.39 330.30,341.13 330.34,342.27 330.38,344.10 330.42,345.52 330.46,345.69 330.50,344.43 330.54,342.42 330.58,340.91 330.62,340.93 330.66,342.60 330.70,344.93 330.74,346.40 330.78,346.01 330.82,344.00 330.86,341.68 330.90,340.53 330.94,341.24 330.98,343.31 331.02,345.45 331.06,346.38 331.10,345.52 331.14,343.38 331.18,341.28 331.22,340.59 331.26,341.83 331.30,344.31 331.34,346.47 331.38,346.89 331.42,345.32 331.46,342.79 331.50,340.98 331.54,341.01 331.58,342.83 331.62,345.25 331.66,346.81 331.70,346.58 331.74,344.69 331.78,342.26 331.82,340.80 331.86,341.37 331.90,343.83 331.94,346.73 331.98,348.16 332.02,347.04 332.06,343.99 332.10,341.02 332.14,340.13 332.18,341.93 332.22,345.21 332.26,347.84 332.30,348.21 332.34,346.19 332.38,343.13 332.42,340.96 332.46,341.04 332.50,343.37 332.54,346.66 332.58,348.88 332.62,348.53 332.66,345.71 332.70,342.25 332.74,340.53 332.78,341.86 332.82,345.48 332.86,349.12 332.90,350.48 332.94,348.75 332.98,345.08 333.02,341.83 333.06,341.15 333.10,343.71 333.14,348.20 333.18,351.90 333.22,352.27 333.26,348.77 333.30,343.47 333.34,340.00 333.38,340.99 333.42,346.04 333.46,351.90 333.50,354.68 333.54,352.67 333.58,347.39 333.62,342.45 333.66,341.04 333.70,344.00 333.74,349.44 333.78,354.03 333.82,354.92 333.86,351.44 333.90,345.70 333.94,341.44 333.98,341.76 334.02,346.83 334.06,353.52 334.10,357.41 334.14,355.84 334.18,349.87 334.22,343.51 334.26,341.04 334.30,344.13 334.34,350.91 334.38,357.13" stroke="#7d1b8c"/>
<polyline points="339.80,343.28 339.84,342.73 339.88,343.60 339.92,345.29 339.96,346.69 340.00,346.89 340.04,345.83 340.08,344.20 340.12,343.05 340.16,343.11 340.20,344.38 340.24,346.08 340.28,347.13 340.32,346.80 340.36,345.23 340.40,343.43 340.44,342.61 340.48,343.37 340.52,345.18 340.56,346.83 340.60,347.25 340.64,346.25 340.68,344.57 340.72,343.33 340.76,343.26 340.80,344.31 340.84,345.78 340.88,346.78 340.92,346.70 340.96,345.57 341.00,344.10 341.04,343.22 341.08,343.54 341.12,344.91 341.16,346.44 341.20,347.12 341.24,346.52 341.28,345.05 341.32,343.69 341.36,343.29 341.40,344.08 341.44,345.52 341.48,346.73 341.52,346.94 341.56,346.04 341.60,344.56 341.64,343.45 341.68,343.44 341.72,344.56 341.76,346.11 341.80,347.07 341.84,346.83 341.88,345.59 341.92,344.20 341.96,343.56 342.00,343.99 342.04,345.15 342.08,346.27 342.12,346.70 342.16,346.23 342.20,345.18 342.24,344.17 342.28,343.83 342.32,344.40 342.36,345.58 342.40,346.63 342.44,346.86 342.48,346.09 342.52,344.80 342.56,343.83 342.60,343.81 342.64,344.73 342.68,345.97 342.72,346.75 342.76,346.63 342.80,345.71 342.84,344.59 342.88,343.94 342.92,344.17 342.96,345.13 343.00,346.24 343.04,346.80 343.08,346.46 343.12,345.43 343.16,344.39 343.20,344.00 343.24,344.47 343.28,345.45 343.32,346.32 343.36,346.55 343.40,346.08 343.44,345.22 343.48,344.51 343.52,344.34 343.56,344.83 343.60,345.70 343.64,346.43 343.68,346.57 343.72,345.98 343.76,345.00 343.80,344.27 343.84,344.26 343.88,344.98 343.92,345.97 343.96,346.60 344.00,346.50 344.04,345.78 344.08,344.92 344.12,344.44 344.16,344.59 344.20,345.27 344.24,346.06 344.28,346.48 344.32,346.30 344.36,345.62 344.40,344.86 344.44,344.50 344.48,344.76 344.52,345.46 344.56,346.16 344.60,346.43 344.64,346.15 344.68,345.51 344.72,344.93 344.76,344.73 344.80,345.02 344.84,345.61 344.88,346.17 344.92,346.37 344.96,346.07 345.00,345.44 345.04,344.85 345.08,344.69 345.12,345.07 345.16,345.77 345.20,346.34 345.24,346.43 345.28,346.02 345.32,345.39 345.36,344.93 345.40,344.90 345.44,345.28 345.48,345.83 345.52,346.21 345.56,346.23 345.60,345.90 345.64,345.41 345.68,345.05 345.72,345.05 345.76,345.40 345.80,345.90 345.84,346.24 345.88,346.22 345.92,345.87 345.96,345.41 346.00,345.14 346.04,345.19 346.08,345.52 346.12,345.93 346.16,346.19 346.20,346.15 346.24,345.84 346.28,345.43 346.32,345.18 346.36,345.24 346.40,345.58 346.44,346.00 346.48,346.24 346.52,346.17 346.56,345.84 346.60,345.47 346.64,345.28 346.68,345.37 346.72,345.66 346.76,345.96 346.80,346.11 346.84,346.04 346.88,345.81 346.92,345.56 346.96,345.42 347.00,345.49 347.04,345.71 347.08,345.97 347.12,346.11 347.16,346.04 347.20,345.83 347.24,345.59 347.28,345.48 347.32,345.55 347.36,345.75 347.40,345.96 347.44,346.06 347.48,346.00 347.52,345.84 347.56,345.66 347.60,345.57 347.64,345.62 347.68,345.78 347.72,345.96 347.76,346.05 347.80,346.01 347.84,345.86 347.88,345.71 347.92,345.65 347.96,345.70 348.00,345.82 348.04,345.94 348.08,345.99 348.12,345.96 348.16,345.88 348.20,345.79 348.24,345.76 348.28,345.78 348.32,345.85 348.36,345.93 348.40,345.98 348.44,345.96 348.48,345.90 348.52,345.84 348.56,345.81 348.60,345.83 348.64,345.89 348.68,345.94 348.72,345.97 348.76,345.96 348.80,345.93 348.84,345.90 348.88,345.89 348.92,345.90 348.96,345.93 349.00,345.95 349.04,345.96 349.08,345.96 349.12,345.95 349.16,345.95 349.20,345.96 350.20,346.08 351.20,346.20 352.20,346.32 353.20,346.45 354.20,346.57 355.20,346.70 356.20,346.82 357.20,346.95 358.20,347.07 359.20,347.20 360.20,347.33 361.20,347.49 362.20,347.64 363.20,347.80 364.20,347.95 365.20,348.11 366.20,348.26 367.20,348.42 368.20,348.57 369.20,348.73 370.20,348.88 371.20,349.04 372.20,349.21 373.20,349.40 374.20,349.59 375.20,349.78 376.20,349.97 377.20,350.16 378.20,350.35 379.20,350.54 380.20,350.73 381.20,350.91 382.20,351.10 383.20,351.29 384.20,351.48 385.20,351.67 386.20,351.86 387.20,352.05 388.20,352.24 389.20,352.46 390.20,352.68 391.20,352.89 392.20,353.11 393.20,353.33 394.20,353.55 395.20,353.76 396.20,353.98 397.20,354.20 398.20,354.41 399.20,354.63 400.20,354.85 401.20,355.07 402.20,355.28 403.20,355.50 404.20,355.74 405.20,355.98 406.20,356.21 407.20,356.45 408.20,356.69 409.20,356.93 410.20,357.17 411.20,357.40 412.20,357.64 413.20,357.88 414.20,358.12 415.20,358.36 416.20,358.60 417.20,358.83 418.20,359.07 419.20,359.31 420.20,359.55 421.20,359.80 422.20,360.05 423.20,360.30 424.20,360.55 425.20,360.80 426.20,361.05 427.20,361.30 428.20,361.55 429.20,361.80 430.20,362.05 431.20,362.30 432.20,362.55 433.20,362.80 434.20,363.05 435.20,363.30 436.20,363.55 437.20,363.80 438.20,364.05 439.20,364.30 440.20,364.55 441.20,364.80 442.20,365.05 443.20,365.30 444.20,365.55 445.20,365.80 446.20,366.06 447.20,366.35 448.20,366.64 449.20,366.93 450.20,367.22 451.20,367.51 452.20,367.80 453.20,368.09 454.20,368.39 455.20,368.68 456.20,368.97 457.20,369.27 458.20,369.64 459.20,370.00 460.20,370.37 461.20,370.73 462.20,371.10 463.20,371.47 464.20,371.83 465.20,372.20 466.20,372.56 467.20,372.93 468.20,373.37 469.20,373.84 470.20,374.30 471.20,374.77 472.20,375.24 473.20,375.70 474.20,376.17 475.20,376.63 476.20,377.10 477.20,377.57 478.20,378.04 479.20,378.52 480.20,379.01 481.20,379.49 482.20,379.97 483.20,380.46 484.20,380.94 485.20,381.42 486.20,381.90 487.20,382.39 488.20,382.87 489.20,383.35" stroke="#7d1b8c"/>
<polygon points="334.60,340.00 334.60,200.00 334.70,120.00 335.00,80.00 335.20,60.00 335.50,45.00 335.70,34.20 336.30,32.50 337.45,34.20 337.55,42.00 338.75,46.00 338.95,60.00 339.55,90.00 339.95,130.00 340.05,200.00 340.15,340.00 340.05,359.50 339.75,365.50 338.70,365.50 338.30,357.50 337.90,340.00 336.60,340.00 336.10,355.30 335.50,363.30 334.90,363.30 334.70,355.30" fill="#7d1b8c" stroke="none"/>
<polyline points="76.00,318.30 77.00,318.35 78.00,318.40 79.00,318.46 80.00,318.51 81.00,318.56 82.00,318.61 83.00,318.66 84.00,318.71 85.00,318.77 86.00,318.82 87.00,318.87 88.00,318.92 89.00,318.97 90.00,319.03 91.00,319.08 92.00,319.13 93.00,319.18 94.00,319.23 95.00,319.29 96.00,319.34 97.00,319.39 98.00,319.44 99.00,319.49 100.00,319.54 101.00,319.60 102.00,319.65 103.00,319.70 104.00,319.75 105.00,319.80 106.00,319.86 107.00,319.91 108.00,319.96 109.00,320.01 110.00,320.06 111.00,320.11 112.00,320.17 113.00,320.22 114.00,320.27 115.00,320.32 116.00,320.37 117.00,320.43 118.00,320.48 119.00,320.53 120.00,320.58 121.00,320.63 122.00,320.69 123.00,320.74 124.00,320.79 125.00,320.84 126.00,320.89 127.00,320.94 128.00,321.00 129.00,321.05 130.00,321.10 131.00,321.17 132.00,321.24 133.00,321.31 134.00,321.37 135.00,321.44 136.00,321.51 137.00,321.58 138.00,321.65 139.00,321.72 140.00,321.79 141.00,321.85 142.00,321.92 143.00,321.99 144.00,322.06 145.00,322.13 146.00,322.20 147.00,322.27 148.00,322.33 149.00,322.40 150.00,322.47 151.00,322.54 152.00,322.61 153.00,322.68 154.00,322.75 155.00,322.81 156.00,322.88 157.00,322.95 158.00,323.02 159.00,323.09 160.00,323.16 161.00,323.23 162.00,323.29 163.00,323.36 164.00,323.43 165.00,323.50 166.00,323.57 167.00,323.64 168.00,323.71 169.00,323.77 170.00,323.84 171.00,323.91 172.00,323.98 173.00,324.05 174.00,324.12 175.00,324.19 176.00,324.25 177.00,324.32 178.00,324.39 179.00,324.46 180.00,324.53 181.00,324.60 182.00,324.67 183.00,324.73 184.00,324.80 185.00,324.87 186.00,324.94 187.00,325.01 188.00,325.08 189.00,325.15 190.00,325.21 191.00,325.28 192.00,325.35 193.00,325.42 194.00,325.49 195.00,325.56 196.00,325.63 197.00,325.69 198.00,325.76 199.00,325.83 200.00,325.90 201.00,325.97 202.00,326.04 203.00,326.10 204.00,326.17 205.00,326.24 206.00,326.31 207.00,326.38 208.00,326.45 209.00,326.51 210.00,326.58 211.00,326.65 212.00,326.72 213.00,326.79 214.00,326.86 215.00,326.92 216.00,326.99 217.00,327.06 218.00,327.13 219.00,327.20 220.00,327.27 221.00,327.33 222.00,327.40 223.00,327.47 224.00,327.54 225.00,327.61 226.00,327.68 227.00,327.75 228.00,327.81 229.00,327.88 230.00,327.95 231.00,328.02 232.00,328.09 233.00,328.15 234.00,328.22 235.00,328.29 236.00,328.36 237.00,328.43 238.00,328.50 239.00,328.56 240.00,328.63 241.00,328.70 242.00,328.77 243.00,328.84 244.00,328.91 245.00,328.98 246.00,329.04 247.00,329.11 248.00,329.18 249.00,329.25 250.00,329.32 251.00,329.38 252.00,329.45 253.00,329.52 254.00,329.59 255.00,329.66 256.00,329.73 257.00,329.80 258.00,329.86 259.00,329.93 260.00,330.00 261.00,330.07 262.00,330.14 263.00,330.21 264.00,330.28 265.00,330.35 266.00,330.42 267.00,330.49 268.00,330.56 269.00,330.63 270.00,330.70 271.00,330.77 272.00,330.84 273.00,330.91 274.00,330.98 275.00,331.05 276.00,331.12 277.00,331.19 278.00,331.26 279.00,331.33 280.00,331.40 281.00,331.47 282.00,331.54 283.00,331.61 284.00,331.68 285.00,331.75 286.00,331.82 287.00,331.90 288.00,331.97 289.00,332.04 290.00,332.11 291.00,332.18 292.00,332.41 293.00,332.70 294.00,333.00 295.00,333.44 296.00,333.88 297.00,334.10 298.00,334.10 299.00,334.10 300.00,334.10 301.00,333.61 302.00,332.54 302.20,332.30 302.24,332.27 302.28,332.23 302.32,332.17 302.36,332.11 302.40,332.05 302.44,331.98 302.48,331.91 302.52,331.84 302.56,331.77 302.60,331.70 302.64,331.62 302.68,331.54 302.72,331.46 302.76,331.37 302.80,331.27 302.84,331.18 302.88,331.08 302.92,331.02 302.96,331.01 303.00,331.02 303.04,331.04 303.08,331.08 303.12,331.13 303.16,331.20 303.20,331.27 303.24,331.35 303.28,331.43 303.32,331.52 303.36,331.61 303.40,331.70 303.44,331.80 303.48,331.91 303.52,332.03 303.56,332.16 303.60,332.29 303.64,332.43 303.68,332.56 303.72,332.68 303.76,332.80 303.80,332.90 303.84,333.00 303.88,333.08 303.92,333.16 303.96,333.24 304.00,333.33 304.04,333.43 304.08,333.53 304.12,333.64 304.16,333.74 304.20,333.83 304.24,333.91 304.28,333.97 304.32,334.01 304.36,334.02 304.40,333.99 304.44,333.95 304.48,333.88 304.52,333.79 304.56,333.70 304.60,333.59 304.64,333.49 304.68,333.39 304.72,333.28 304.76,333.17 304.80,333.05 304.84,332.93 304.88,332.79 304.92,332.65 304.96,332.50 305.00,332.35 305.04,332.21 305.08,332.07 305.12,331.95 305.16,331.84 305.20,331.73 305.24,331.63 305.28,331.54 305.32,331.44 305.36,331.33 305.40,331.21 305.44,331.08 305.48,330.94 305.52,330.82 305.56,330.70 305.60,330.61 305.64,330.55 305.68,330.52 305.72,330.55 305.76,330.61 305.80,330.71 305.84,330.83 305.88,330.96 305.92,331.11 305.96,331.25 306.00,331.39 306.04,331.53 306.08,331.67 306.12,331.81 306.16,331.96 306.20,332.12 306.24,332.28 306.28,332.46 306.32,332.65 306.36,332.83 306.40,333.02 306.44,333.20 306.48,333.37 306.52,333.53 306.56,333.69 306.60,333.84 306.64,333.99 306.68,334.15 306.72,334.32 306.76,334.49 306.80,334.67 306.84,334.85 306.88,335.01 306.92,335.15 306.96,335.25 307.00,335.32 307.04,335.34 307.08,335.32 307.12,335.26 307.16,335.17 307.20,335.06 307.24,334.94 307.28,334.81 307.32,334.69 307.36,334.58 307.40,334.46 307.44,334.35 307.48,334.24 307.52,334.11 307.56,333.96 307.60,333.80 307.64,333.62 307.68,333.43 307.72,333.23 307.76,333.03 307.80,332.83 307.84,332.65 307.88,332.47 307.92,332.30 307.96,332.13 308.00,331.96 308.04,331.79 308.08,331.62 308.12,331.46 308.16,331.30 308.20,331.17 308.24,331.06 308.28,331.01 308.32,331.00 308.36,331.04 308.40,331.14 308.44,331.29 308.48,331.47 308.52,331.68 308.56,331.90 308.60,332.12 308.64,332.34 308.68,332.56 308.72,332.77 308.76,332.99 308.80,333.23 308.84,333.48 308.88,333.74 308.92,334.03 308.96,334.32 309.00,334.61 309.04,334.88 309.08,335.14 309.12,335.35 309.16,335.53 309.20,335.68 309.24,335.78 309.28,335.86 309.32,335.91 309.36,335.94 309.40,335.94 309.44,335.91 309.48,335.83 309.52,335.71 309.56,335.53 309.60,335.30 309.64,335.03 309.68,334.71 309.72,334.37 309.76,334.03 309.80,333.69 309.84,333.38 309.88,333.11 309.92,332.86 309.96,332.64 310.00,332.43 310.04,332.24 310.08,332.07 310.12,331.91 310.16,331.79 310.20,331.71 310.24,331.70 310.28,331.76 310.32,331.92 310.36,332.16 310.40,332.48 310.44,332.86 310.48,333.28 310.52,333.72 310.56,334.16 310.60,334.58 310.64,334.98 310.68,335.34 310.72,335.66 310.76,335.94 310.80,336.16 310.84,336.30 310.88,336.36 310.92,336.31 310.96,336.15 311.00,335.88 311.04,335.52 311.08,335.10 311.12,334.64 311.16,334.17 311.20,333.73 311.24,333.32 311.28,332.96 311.32,332.65 311.36,332.39 311.40,332.18 311.44,332.06 311.48,332.02 311.52,332.10 311.56,332.31 311.60,332.65 311.64,333.13 311.68,333.69 311.72,334.30 311.76,334.91 311.80,335.46 311.84,335.90 311.88,336.20 311.92,336.37 311.96,336.38 312.00,336.26 312.04,336.01 312.08,335.65 312.12,335.18 312.16,334.64 312.20,334.04 312.24,333.44 312.28,332.89 312.32,332.44 312.36,332.14 312.40,332.04 312.44,332.15 312.48,332.44 312.52,332.90 312.56,333.46 312.60,334.08 312.64,334.72 312.68,335.32 312.72,335.85 312.76,336.25 312.80,336.46 312.84,336.43 312.88,336.13 312.92,335.57 312.96,334.79 313.00,333.90 313.04,333.05 313.08,332.37 313.12,331.98 313.16,331.92 313.20,332.18 313.24,332.71 313.28,333.42 313.32,334.20 313.36,334.96 313.40,335.62 313.44,336.12 313.48,336.37 313.52,336.35 313.56,336.03 313.60,335.43 313.64,334.64 313.68,333.78 313.72,333.00 313.76,332.43 313.80,332.16 313.84,332.25 313.88,332.66 313.92,333.33 313.96,334.15 314.00,335.01 314.04,335.79 314.08,336.36 314.12,336.64 314.16,336.53 314.20,336.04 314.24,335.20 314.28,334.18 314.32,333.16 314.36,332.36 314.40,331.96 314.44,332.04 314.48,332.56 314.52,333.39 314.56,334.36 314.60,335.27 314.64,335.96 314.68,336.35 314.72,336.36 314.76,336.01 314.80,335.33 314.84,334.44 314.88,333.49 314.92,332.69 314.96,332.23 315.00,332.25 315.04,332.78 315.08,333.70 315.12,334.80 315.16,335.82 315.20,336.51 315.24,336.71 315.28,336.38 315.32,335.61 315.36,334.56 315.40,333.46 315.44,332.58 315.48,332.15 315.52,332.30 315.56,333.04 315.60,334.20 315.64,335.46 315.68,336.46 315.72,336.90 315.76,336.64 315.80,335.79 315.84,334.63 315.88,333.50 315.92,332.74 315.96,332.51 316.00,332.87 316.04,333.69 316.08,334.76 316.12,335.79 316.16,336.48 316.20,336.60 316.24,336.04 316.28,334.94 316.32,333.63 316.36,332.56 316.40,332.11 316.44,332.45 316.48,333.48 316.52,334.83 316.56,336.05 316.60,336.75 316.64,336.71 316.68,335.97 316.72,334.77 316.76,333.49 316.80,332.55 316.84,332.26 316.88,332.76 316.92,333.90 316.96,335.30 317.00,336.44 317.04,336.90 317.08,336.54 317.12,335.49 317.16,334.19 317.20,333.09 317.24,332.58 317.28,332.78 317.32,333.61 317.36,334.77 317.40,335.88 317.44,336.57 317.48,336.56 317.52,335.79 317.56,334.49 317.60,333.12 317.64,332.26 317.68,332.28 317.72,333.24 317.76,334.74 317.80,336.19 317.84,336.98 317.88,336.82 317.92,335.81 317.96,334.39 318.00,333.12 318.04,332.47 318.08,332.69 318.12,333.69 318.16,335.08 318.20,336.32 318.24,336.89 318.28,336.51 318.32,335.34 318.36,333.86 318.40,332.74 318.44,332.46 318.48,333.13 318.52,334.42 318.56,335.76 318.60,336.59 318.64,336.57 318.68,335.72 318.72,334.40 318.76,333.14 318.80,332.51 318.84,332.85 318.88,334.09 318.92,335.71 318.96,336.94 319.00,337.14 319.04,336.15 319.08,334.46 319.12,332.91 319.16,332.26 319.20,332.81 319.24,334.22 319.28,335.77 319.32,336.73 319.36,336.68 319.40,335.68 319.44,334.22 319.48,332.99 319.52,332.62 319.56,333.32 319.60,334.78 319.64,336.26 319.68,336.97 319.72,336.49 319.76,335.07 319.80,333.49 319.84,332.61 319.88,332.89 319.92,334.15 319.96,335.71 320.00,336.75 320.04,336.70 320.08,335.56 320.12,333.92 320.16,332.65 320.20,332.51 320.24,333.64 320.28,335.47 320.32,336.96 320.36,337.22 320.40,336.10 320.44,334.26 320.48,332.78 320.52,332.47 320.56,333.41 320.60,335.02 320.64,336.37 320.68,336.79 320.72,336.10 320.76,334.70 320.80,333.32 320.84,332.71 320.88,333.24 320.92,334.68 320.96,336.24 321.00,337.04 321.04,336.56 321.08,335.06 321.12,333.39 321.16,332.51 321.20,332.92 321.24,334.35 321.28,335.99 321.32,336.94 321.36,336.69 321.40,335.37 321.44,333.68 321.48,332.56 321.52,332.66 321.56,334.00 321.60,335.84 321.64,337.12 321.68,337.09 321.72,335.75 321.76,333.91 321.80,332.65 321.84,332.65 321.88,333.83 321.92,335.45 321.96,336.60 322.00,336.71 322.04,335.77 322.08,334.30 322.12,333.09 322.16,332.80 322.20,333.66 322.24,335.25 322.28,336.69 322.32,337.11 322.36,336.20 322.40,334.45 322.44,332.87 322.48,332.41 322.52,333.32 322.56,335.05 322.60,336.60 322.64,337.11 322.68,336.32 322.72,334.69 322.76,333.13 322.80,332.51 322.84,333.21 322.88,334.86 322.92,336.53 322.96,337.24 323.00,336.56 323.04,334.89 323.08,333.21 323.12,332.52 323.16,333.17 323.20,334.70 323.24,336.20 323.28,336.86 323.32,336.36 323.36,335.02 323.40,333.58 323.44,332.82 323.48,333.19 323.52,334.57 323.56,336.22 323.60,337.17 323.64,336.79 323.68,335.22 323.72,333.36 323.76,332.34 323.80,332.79 323.84,334.41 323.88,336.24 323.92,337.19 323.96,336.78 324.00,335.29 324.04,333.61 324.08,332.66 324.12,332.98 324.16,334.38 324.20,336.08 324.24,337.10 324.28,336.83 324.32,335.38 324.36,333.63 324.40,332.61 324.44,332.92 324.48,334.33 324.52,335.99 324.56,336.93 324.60,336.65 324.64,335.37 324.68,333.82 324.72,332.87 324.76,333.05 324.80,334.33 324.84,336.02 324.88,337.14 324.92,336.97 324.96,335.50 325.00,333.57 325.04,332.36 325.08,332.63 325.12,334.23 325.16,336.17 325.20,337.27 325.24,336.94 325.28,335.45 325.32,333.73 325.36,332.75 325.40,333.03 325.44,334.37 325.48,336.01 325.52,337.01 325.56,336.77 325.60,335.40 325.64,333.68 325.68,332.65 325.72,332.94 325.76,334.40 325.80,336.13 325.84,337.09 325.88,336.74 325.92,335.33 325.96,333.70 326.00,332.79 326.04,333.11 326.08,334.51 326.12,336.20 326.16,337.20 326.20,336.86 326.24,335.29 326.28,333.39 326.32,332.34 326.36,332.82 326.40,334.57 326.44,336.50 326.48,337.42 326.52,336.82 326.56,335.15 326.60,333.46 326.64,332.73 326.68,333.30 326.72,334.78 326.76,336.30 326.80,337.00 326.84,336.47 326.88,334.99 326.92,333.39 326.96,332.66 327.00,333.29 327.04,334.95 327.08,336.63 327.12,337.29 327.16,336.52 327.20,334.81 327.24,333.20 327.28,332.66 327.32,333.47 327.36,335.15 327.40,336.72 327.44,337.24 327.48,336.38 327.52,334.58 327.56,332.92 327.60,332.44 327.64,333.49 327.68,335.45 327.72,337.11 327.76,337.42 327.80,336.23 327.84,334.34 327.88,332.94 327.92,332.82 327.96,333.95 328.00,335.59 328.04,336.79 328.08,336.88 328.12,335.81 328.16,334.17 328.20,332.92 328.24,332.85 328.28,334.11 328.32,336.02 328.36,337.38 328.40,337.28 328.44,335.73 328.48,333.67 328.52,332.41 328.56,332.72 328.60,334.39 328.64,336.39 328.68,337.51 328.72,337.08 328.76,335.36 328.80,333.36 328.84,332.30 328.88,332.86 328.92,334.78 328.96,336.89 329.00,337.86 329.04,337.04 329.08,334.96 329.12,332.94 329.16,332.25 329.20,333.25 329.24,335.24 329.28,336.96 329.32,337.43 329.36,336.42 329.40,334.55 329.44,332.92 329.48,332.50 329.52,333.64 329.56,335.75 329.60,337.58 329.64,337.88 329.68,336.35 329.72,333.86 329.76,332.00 329.80,332.02 329.84,333.91 329.88,336.45 329.92,338.04 329.96,337.72 330.00,335.76 330.04,333.39 330.08,332.05 330.12,332.55 330.16,334.59 330.20,336.95 330.24,338.17 330.28,337.43 330.32,335.14 330.36,332.75 330.40,331.79 330.44,332.87 330.48,335.27 330.52,337.43 330.56,338.03 330.60,336.77 330.64,334.49 330.68,332.59 330.72,332.21 330.76,333.59 330.80,335.97 330.84,337.92 330.88,338.16 330.92,336.37 330.96,333.55 331.00,331.52 331.04,331.65 331.08,334.03 331.12,337.18 331.16,339.02 331.20,338.37 331.24,335.68 331.28,332.72 331.32,331.36 331.36,332.40 331.40,335.14 331.44,337.91 331.48,339.01 331.52,337.72 331.56,334.75 331.60,331.94 331.64,331.14 331.68,332.99 331.72,336.40 331.76,339.18 331.80,339.50 331.84,337.14 331.88,333.64 331.92,331.27 331.96,331.49 332.00,334.17 332.04,337.68 332.08,339.85 332.12,339.26 332.16,336.09 332.20,332.20 332.24,330.12 332.28,331.45 332.32,335.58 332.36,339.90 332.40,341.48 332.44,339.20 332.48,334.55 332.52,330.63 332.56,329.95 332.60,332.89 332.64,337.48 332.68,340.80 332.72,340.86 332.76,337.67 332.80,333.20 332.84,330.24 332.88,330.81 332.92,334.83 332.96,339.93 333.00,342.78 333.04,341.29 333.08,336.20 333.12,330.81 333.16,328.78 333.20,331.56 333.24,337.41 333.28,342.56 333.32,343.69 333.36,340.06 333.40,333.87 333.44,329.04 333.48,328.83 333.52,333.73 333.56,340.87 333.60,345.60 333.64,344.50 333.68,337.98 333.72,330.28 333.76,326.64 333.80,329.54 333.84,336.93 333.88,343.79 333.92,345.69 333.96,341.71 334.00,334.71 334.04,329.20 334.08,328.55 334.12,333.13 334.16,340.19 334.20,345.31 334.24,344.98 334.28,338.95 334.32,330.85 334.36,326.15" stroke="#1010f0"/>
<polyline points="339.80,334.92 339.84,334.41 339.88,335.25 339.92,336.91 339.96,338.36 340.00,338.67 340.04,337.56 340.08,335.70 340.12,334.32 340.16,334.38 340.20,335.90 340.24,337.88 340.28,339.01 340.32,338.56 340.36,336.87 340.40,335.05 340.44,334.28 340.48,335.04 340.52,336.81 340.56,338.50 340.60,339.02 340.64,338.02 340.68,336.12 340.72,334.57 340.76,334.39 340.80,335.72 340.84,337.66 340.88,338.92 340.92,338.73 340.96,337.32 341.00,335.68 341.04,334.85 341.08,335.28 341.12,336.60 341.16,337.97 341.20,338.58 341.24,338.07 341.28,336.75 341.32,335.42 341.36,334.95 341.40,335.71 341.44,337.26 341.48,338.61 341.52,338.85 341.56,337.83 341.60,336.24 341.64,335.12 341.68,335.18 341.72,336.32 341.76,337.78 341.80,338.66 341.84,338.45 341.88,337.32 341.92,335.99 341.96,335.30 342.00,335.68 342.04,336.91 342.08,338.20 342.12,338.73 342.16,338.19 342.20,336.95 342.24,335.86 342.28,335.58 342.32,336.24 342.36,337.36 342.40,338.24 342.44,338.37 342.48,337.74 342.52,336.75 342.56,336.00 342.60,335.96 342.64,336.68 342.68,337.76 342.72,338.53 342.76,338.48 342.80,337.60 342.84,336.48 342.88,335.84 342.92,336.10 342.96,337.06 343.00,338.09 343.04,338.55 343.08,338.22 343.12,337.37 343.16,336.53 343.20,336.22 343.24,336.60 343.28,337.42 343.32,338.19 343.36,338.45 343.40,338.04 343.44,337.24 343.48,336.55 343.52,336.42 343.56,336.91 343.60,337.69 343.64,338.27 343.68,338.32 343.72,337.86 343.76,337.21 343.80,336.75 343.84,336.76 343.88,337.23 343.92,337.88 343.96,338.34 344.00,338.32 344.04,337.81 344.08,337.14 344.12,336.74 344.16,336.87 344.20,337.44 344.24,338.09 344.28,338.42 344.32,338.26 344.36,337.75 344.40,337.24 344.44,337.04 344.48,337.23 344.52,337.67 344.56,338.11 344.60,338.29 344.64,338.13 344.68,337.74 344.72,337.36 344.76,337.23 344.80,337.43 344.84,337.84 344.88,338.20 344.92,338.30 344.96,338.11 345.00,337.77 345.04,337.49 345.08,337.45 345.12,337.64 345.16,337.96 345.20,338.22 345.24,338.28 345.28,338.11 345.32,337.83 345.36,337.61 345.40,337.59 345.44,337.79 345.48,338.08 345.52,338.28 345.56,338.29 345.60,338.13 345.64,337.92 345.68,337.79 345.72,337.82 345.76,337.97 345.80,338.14 345.84,338.25 345.88,338.24 345.92,338.15 345.96,338.04 346.00,337.97 346.04,338.00 346.08,338.10 346.12,338.21 346.16,338.28 346.20,338.27 346.24,338.20 346.28,338.13 346.32,338.10 346.36,338.12 346.40,338.18 346.44,338.24 346.48,338.27 346.52,338.26 346.56,338.23 346.60,338.21 346.64,338.20 346.68,338.22 346.72,338.24 346.76,338.26 346.80,338.26 347.80,338.38 348.80,338.49 349.80,338.61 350.80,338.73 351.80,338.84 352.80,338.96 353.80,339.08 354.80,339.19 355.80,339.31 356.80,339.43 357.80,339.54 358.80,339.66 359.80,339.78 360.80,339.91 361.80,340.05 362.80,340.19 363.80,340.32 364.80,340.46 365.80,340.60 366.80,340.74 367.80,340.88 368.80,341.01 369.80,341.15 370.80,341.29 371.80,341.42 372.80,341.55 373.80,341.67 374.80,341.79 375.80,341.91 376.80,342.03 377.80,342.16 378.80,342.28 379.80,342.40 380.80,342.52 381.80,342.64 382.80,342.77 383.80,342.89 384.80,343.01 385.80,343.13 386.80,343.25 387.80,343.38 388.80,343.52 389.80,343.67 390.80,343.82 391.80,343.97 392.80,344.13 393.80,344.28 394.80,344.43 395.80,344.58 396.80,344.73 397.80,344.88 398.80,345.03 399.80,345.19 400.80,345.34 401.80,345.49 402.80,345.64 403.80,345.80 404.80,345.98 405.80,346.15 406.80,346.32 407.80,346.49 408.80,346.67 409.80,346.84 410.80,347.01 411.80,347.18 412.80,347.36 413.80,347.53 414.80,347.70 415.80,347.88 416.80,348.05 417.80,348.22 418.80,348.39 419.80,348.57 420.80,348.76 421.80,348.96 422.80,349.17 423.80,349.37 424.80,349.57 425.80,349.78 426.80,349.98 427.80,350.18 428.80,350.38 429.80,350.59 430.80,350.79 431.80,350.99 432.80,351.19 433.80,351.40 434.80,351.60 435.80,351.81 436.80,352.03 437.80,352.24 438.80,352.46 439.80,352.67 440.80,352.89 441.80,353.10 442.80,353.31 443.80,353.53 444.80,353.74 445.80,353.96 446.80,354.20 447.80,354.46 448.80,354.71 449.80,354.97 450.80,355.22 451.80,355.48 452.80,355.73 453.80,355.99 454.80,356.24 455.80,356.49 456.80,356.75 457.80,357.00 458.80,357.25 459.80,357.50 460.80,357.75 461.80,358.00 462.80,358.25 463.80,358.50 464.80,358.75 465.80,359.00 466.80,359.25 467.80,359.52 468.80,359.83 469.80,360.15 470.80,360.46 471.80,360.77 472.80,361.08 473.80,361.39 474.80,361.70 475.80,362.01 476.80,362.32 477.80,362.64 478.80,362.99 479.80,363.34 480.80,363.70 481.80,364.05 482.80,364.40 483.80,364.76 484.80,365.11 485.80,365.46 486.80,365.82 487.80,366.17 488.80,366.52" stroke="#1010f0"/>
<polygon points="334.30,340.00 334.30,200.00 334.40,120.00 334.70,80.00 334.90,60.00 335.20,45.00 335.40,36.00 336.30,34.30 337.10,36.00 337.20,42.00 338.40,46.00 338.60,60.00 339.20,90.00 339.60,130.00 339.70,200.00 339.80,340.00 339.70,358.50 339.40,364.50 338.70,364.50 338.30,356.50 337.90,340.00 336.60,340.00 336.10,341.00 335.50,349.00 334.60,349.00 334.40,341.00" fill="#1010f0" stroke="none"/>
</g>
<polygon points="336.1,100 336.5,100 336.9,125 337.2,180 337.85,250 337.85,368 336.85,368 336.8,300 336.2,250 336.0,180 335.9,125" fill="url(#cg)"/>
<g stroke="#666666" stroke-width="0.5" fill="none">
<rect x="76.45" y="22.4" width="413.05" height="411.90000000000003"/>
<path d="M83.90,434.3 v-2.6 M83.90,22.4 v2.6 M100.45,434.3 v-1.9 M100.45,22.4 v1.9 M117.00,434.3 v-1.9 M117.00,22.4 v1.9 M133.55,434.3 v-2.6 M133.55,22.4 v2.6 M150.10,434.3 v-1.9 M150.10,22.4 v1.9 M166.65,434.3 v-1.9 M166.65,22.4 v1.9 M183.20,434.3 v-2.6 M183.20,22.4 v2.6 M199.75,434.3 v-1.9 M199.75,22.4 v1.9 M216.30,434.3 v-1.9 M216.30,22.4 v1.9 M232.85,434.3 v-2.6 M232.85,22.4 v2.6 M249.40,434.3 v-1.9 M249.40,22.4 v1.9 M265.95,434.3 v-1.9 M265.95,22.4 v1.9 M282.50,434.3 v-2.6 M282.50,22.4 v2.6 M299.05,434.3 v-1.9 M299.05,22.4 v1.9 M315.60,434.3 v-1.9 M315.60,22.4 v1.9 M332.15,434.3 v-2.6 M332.15,22.4 v2.6 M348.70,434.3 v-1.9 M348.70,22.4 v1.9 M365.25,434.3 v-1.9 M365.25,22.4 v1.9 M381.80,434.3 v-2.6 M381.80,22.4 v2.6 M398.35,434.3 v-1.9 M398.35,22.4 v1.9 M414.90,434.3 v-1.9 M414.90,22.4 v1.9 M431.45,434.3 v-2.6 M431.45,22.4 v2.6 M448.00,434.3 v-1.9 M448.00,22.4 v1.9 M464.55,434.3 v-1.9 M464.55,22.4 v1.9 M481.10,434.3 v-2.6 M481.10,22.4 v2.6 M76.45,434.30 h2.6 M489.5,434.30 h-2.6 M76.45,399.98 h2.2 M489.5,399.98 h-2.2 M76.45,365.65 h2.6 M489.5,365.65 h-2.6 M76.45,331.32 h2.2 M489.5,331.32 h-2.2 M76.45,297.00 h2.6 M489.5,297.00 h-2.6 M76.45,262.68 h2.2 M489.5,262.68 h-2.2 M76.45,228.35 h2.6 M489.5,228.35 h-2.6 M76.45,194.03 h2.2 M489.5,194.03 h-2.2 M76.45,159.70 h2.6 M489.5,159.70 h-2.6 M76.45,125.38 h2.2 M489.5,125.38 h-2.2 M76.45,91.05 h2.6 M489.5,91.05 h-2.6 M76.45,56.73 h2.2 M489.5,56.73 h-2.2 M76.45,22.40 h2.6 M489.5,22.40 h-2.6"/>
</g>
<g font-family="Liberation Serif, serif" fill="#666666" font-size="18.4">
<text x="84.35" y="453.30" text-anchor="middle">10<tspan font-size="13.2" dy="-5.2">−</tspan><tspan font-size="13.2" dy="-1.3">3</tspan></text>
<text x="134.00" y="453.30" text-anchor="middle">1</text>
<text x="183.65" y="453.30" text-anchor="middle">10<tspan font-size="13.2" dy="-6.5">3</tspan></text>
<text x="233.30" y="453.30" text-anchor="middle">10<tspan font-size="13.2" dy="-6.5">6</tspan></text>
<text x="282.95" y="453.30" text-anchor="middle">10<tspan font-size="13.2" dy="-6.5">9</tspan></text>
<text x="332.60" y="453.30" text-anchor="middle">10<tspan font-size="13.2" dy="-6.5">12</tspan></text>
<text x="382.25" y="453.30" text-anchor="middle">10<tspan font-size="13.2" dy="-6.5">15</tspan></text>
<text x="431.90" y="453.30" text-anchor="middle">10<tspan font-size="13.2" dy="-6.5">18</tspan></text>
<text x="481.55" y="453.30" text-anchor="middle">10<tspan font-size="13.2" dy="-6.5">21</tspan></text>
<text x="73.85" y="440.50" text-anchor="end">10<tspan font-size="13.2" dy="-5.2">−</tspan><tspan font-size="13.2" dy="-1.3">12</tspan></text>
<text x="73.85" y="371.85" text-anchor="end">10<tspan font-size="13.2" dy="-5.2">−</tspan><tspan font-size="13.2" dy="-1.3">10</tspan></text>
<text x="73.85" y="303.20" text-anchor="end">10<tspan font-size="13.2" dy="-5.2">−</tspan><tspan font-size="13.2" dy="-1.3">8</tspan></text>
<text x="73.85" y="234.55" text-anchor="end">10<tspan font-size="13.2" dy="-5.2">−</tspan><tspan font-size="13.2" dy="-1.3">6</tspan></text>
<text x="73.85" y="165.90" text-anchor="end">10<tspan font-size="13.2" dy="-5.2">−</tspan><tspan font-size="13.2" dy="-1.3">4</tspan></text>
<text x="73.85" y="97.25" text-anchor="end">10<tspan font-size="13.2" dy="-5.2">−</tspan><tspan font-size="13.2" dy="-1.3">2</tspan></text>
<text x="73.85" y="28.60" text-anchor="end">1</text>
</g>
<g font-family="Liberation Serif, serif" font-size="15.1">
<text x="190.4" y="42.0" fill="#2020ec">BBN</text>
<text x="230.2" y="42.0" fill="#62f0f5">EPTA</text>
<text x="134.7" y="57.2" fill="#ef8931"><tspan font-style="italic">μ</tspan><tspan dy="1.5" dx="0.2">−</tspan><tspan dy="-1.5" dx="0.3">distortion</tspan></text>
<text x="86.4" y="310.8" fill="#6bee55">Planck</text>
</g>
<g stroke-width="1.6">
<line x1="348.2" x2="385.8" y1="34.1" y2="34.1" stroke="#1010f0"/>
<line x1="348.2" x2="385.8" y1="46.2" y2="46.2" stroke="#7d1b8c"/>
<line x1="348.2" x2="385.8" y1="58.1" y2="58.1" stroke="#f03030"/>
</g>
<g font-family="Liberation Serif, serif" font-size="11.3" fill="#000" text-anchor="middle">
<text x="435.1" y="38.0">Power<tspan dy="-0.5">–</tspan><tspan dy="0.5">law potential</tspan></text>
<text x="435.6" y="49.95">Periodic potential</text>
<text x="435.6" y="61.8">Hilltop potential</text>
</g>
<text y="477.2" font-family="Liberation Serif, serif" font-style="italic" font-size="17.8" fill="#666666"><tspan x="251.4">k</tspan><tspan x="260.9">/</tspan><tspan x="267.0">Mpc</tspan><tspan font-size="12.8" dy="-6.6" dx="0.6">−1</tspan></text>
<g transform="translate(21.5,242) rotate(-90)" fill="none" stroke="#666666" stroke-width="1.05" stroke-linecap="round" stroke-linejoin="round">
<path d="M5.7,-12.3 L2.4,0 M1.6,0.1 L3.4,-0.1"/>
<path d="M0.5,-9.8 C0.9,-11.4 2.8,-12.5 5.4,-12.7 C7,-12.95 8,-13 9.1,-13 C11.2,-13 12.6,-11.9 12.8,-10 C12.9,-8.4 12.4,-7.6 11.3,-6.7 C10,-5.6 7.4,-4.7 4.6,-4.9"/>
<g stroke-width="0.9"><path d="M15.8,-5.6 L14.7,2.3 M14.1,2.4 L15.4,2.2"/>
<path d="M13.8,-4.6 C14.4,-5.8 16.5,-6.4 18.8,-6.3 C20.6,-6.2 21.8,-5.6 21.9,-4.4 C22,-2.8 19.6,-1.5 16.6,-1.6 C18.3,-1.3 19.2,0.9 20.3,2.0 C21.2,2.8 22.6,2.4 23.4,1.1"/></g>
</g>
</svg>
</div>
</body></html>
